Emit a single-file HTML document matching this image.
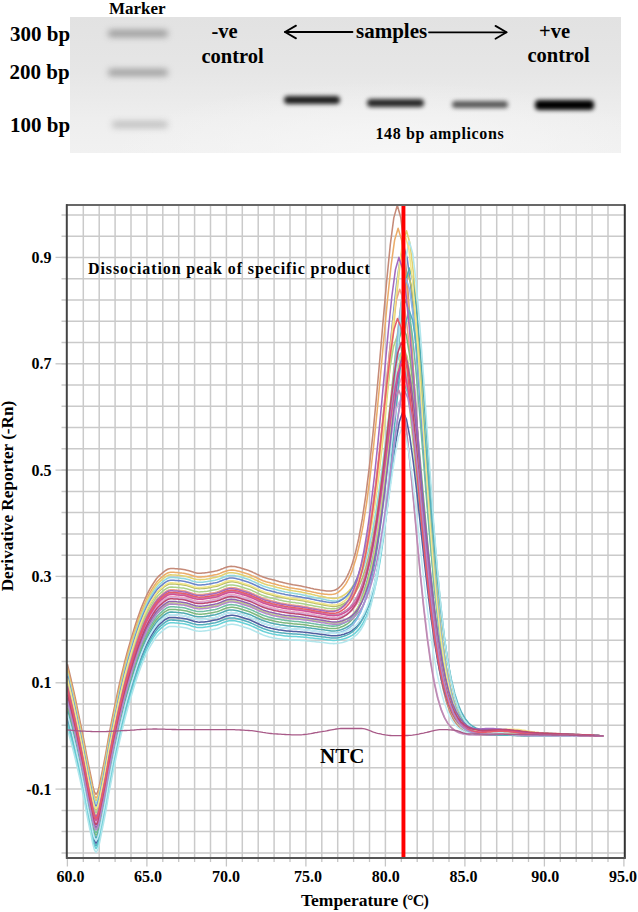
<!DOCTYPE html>
<html><head><meta charset="utf-8">
<style>
html,body{margin:0;padding:0;background:#fff;}
body{width:638px;height:912px;position:relative;overflow:hidden;font-family:"Liberation Serif",serif;font-weight:bold;color:#000;}
.a{position:absolute;white-space:nowrap;line-height:1;}
#gel{position:absolute;left:70px;top:17px;width:551px;height:136px;background:radial-gradient(ellipse 280px 75px at 320px 140px,#f7f7f7 0%,rgba(246,246,246,0.6) 45%,rgba(240,240,240,0) 100%),linear-gradient(180deg,#e2e2e2 0%,#e6e6e6 40%,#eeeeee 75%,#f1f1f1 100%);overflow:hidden;}
.band{position:absolute;border-radius:4px;filter:blur(2.1px);}
svg{position:absolute;left:0;top:0;}
</style></head><body>
<div id="gel">
  <div class="band" style="left:38px;top:13px;width:60px;height:7px;background:#9a9a9a;filter:blur(3px)"></div>
  <div class="band" style="left:38px;top:52px;width:60px;height:7px;background:#9e9e9e;filter:blur(3px)"></div>
  <div class="band" style="left:42px;top:103.5px;width:56px;height:7px;background:#c0c0c0;filter:blur(3px)"></div>
  <div class="band" style="left:214px;top:79px;width:56px;height:8px;background:#1e1e1e"></div>
  <div class="band" style="left:297px;top:81.5px;width:57px;height:8px;background:#282828"></div>
  <div class="band" style="left:382px;top:83.7px;width:56px;height:7.5px;background:#585858"></div>
  <div class="band" style="left:465px;top:82.6px;width:59px;height:10px;background:#000"></div>
</div>
<div class="a" style="left:10px;top:24.4px;font-size:21px">300 bp</div>
<div class="a" style="left:9.5px;top:62.3px;font-size:21px">200 bp</div>
<div class="a" style="left:10px;top:115.3px;font-size:21px">100 bp</div>
<div class="a" style="left:109px;top:0px;font-size:17px">Marker</div>
<div class="a" style="left:211.5px;top:20.5px;font-size:20.5px">-ve</div>
<div class="a" style="left:201.5px;top:45.8px;font-size:20.5px">control</div>
<div class="a" style="left:356px;top:21px;font-size:21px">samples</div>
<div class="a" style="left:539px;top:20.5px;font-size:20.5px">+ve</div>
<div class="a" style="left:527.5px;top:44.6px;font-size:20.5px">control</div>
<div class="a" style="left:375.5px;top:126px;font-size:16px;letter-spacing:0.6px">148 bp amplicons</div>
<svg width="638" height="912" viewBox="0 0 638 912">
<defs><clipPath id="pc"><rect x="67" y="205.5" width="557" height="652"/></clipPath></defs>
<g stroke="#000" stroke-width="1.8" fill="none" stroke-linecap="round" stroke-linejoin="round">
<line x1="285" y1="32" x2="352.5" y2="32"/><polyline points="296,25.6 285,32 296,38.4"/>
<line x1="429" y1="32.3" x2="506.5" y2="32.3"/><polyline points="495.5,25.9 506.5,32.3 495.5,38.7"/>
</g>
<g stroke="#cacaca" stroke-width="1.5"><line x1="83.3" y1="205" x2="83.3" y2="858"/><line x1="99.2" y1="205" x2="99.2" y2="858"/><line x1="115.1" y1="205" x2="115.1" y2="858"/><line x1="131.0" y1="205" x2="131.0" y2="858"/><line x1="146.9" y1="205" x2="146.9" y2="858"/><line x1="162.8" y1="205" x2="162.8" y2="858"/><line x1="178.7" y1="205" x2="178.7" y2="858"/><line x1="194.6" y1="205" x2="194.6" y2="858"/><line x1="210.5" y1="205" x2="210.5" y2="858"/><line x1="226.4" y1="205" x2="226.4" y2="858"/><line x1="242.3" y1="205" x2="242.3" y2="858"/><line x1="258.2" y1="205" x2="258.2" y2="858"/><line x1="274.1" y1="205" x2="274.1" y2="858"/><line x1="290.0" y1="205" x2="290.0" y2="858"/><line x1="305.9" y1="205" x2="305.9" y2="858"/><line x1="321.8" y1="205" x2="321.8" y2="858"/><line x1="337.7" y1="205" x2="337.7" y2="858"/><line x1="353.6" y1="205" x2="353.6" y2="858"/><line x1="369.5" y1="205" x2="369.5" y2="858"/><line x1="385.4" y1="205" x2="385.4" y2="858"/><line x1="417.2" y1="205" x2="417.2" y2="858"/><line x1="433.1" y1="205" x2="433.1" y2="858"/><line x1="449.0" y1="205" x2="449.0" y2="858"/><line x1="464.9" y1="205" x2="464.9" y2="858"/><line x1="480.8" y1="205" x2="480.8" y2="858"/><line x1="496.7" y1="205" x2="496.7" y2="858"/><line x1="512.6" y1="205" x2="512.6" y2="858"/><line x1="528.5" y1="205" x2="528.5" y2="858"/><line x1="544.4" y1="205" x2="544.4" y2="858"/><line x1="560.3" y1="205" x2="560.3" y2="858"/><line x1="576.2" y1="205" x2="576.2" y2="858"/><line x1="592.1" y1="205" x2="592.1" y2="858"/><line x1="608.0" y1="205" x2="608.0" y2="858"/><line x1="61.5" y1="214.9" x2="624" y2="214.9"/><line x1="61.5" y1="236.2" x2="624" y2="236.2"/><line x1="61.5" y1="257.4" x2="624" y2="257.4"/><line x1="61.5" y1="278.7" x2="624" y2="278.7"/><line x1="61.5" y1="300.0" x2="624" y2="300.0"/><line x1="61.5" y1="321.2" x2="624" y2="321.2"/><line x1="61.5" y1="342.5" x2="624" y2="342.5"/><line x1="61.5" y1="363.8" x2="624" y2="363.8"/><line x1="61.5" y1="385.0" x2="624" y2="385.0"/><line x1="61.5" y1="406.3" x2="624" y2="406.3"/><line x1="61.5" y1="427.6" x2="624" y2="427.6"/><line x1="61.5" y1="448.8" x2="624" y2="448.8"/><line x1="61.5" y1="470.1" x2="624" y2="470.1"/><line x1="61.5" y1="491.4" x2="624" y2="491.4"/><line x1="61.5" y1="512.6" x2="624" y2="512.6"/><line x1="61.5" y1="533.9" x2="624" y2="533.9"/><line x1="61.5" y1="555.2" x2="624" y2="555.2"/><line x1="61.5" y1="576.4" x2="624" y2="576.4"/><line x1="61.5" y1="597.7" x2="624" y2="597.7"/><line x1="61.5" y1="619.0" x2="624" y2="619.0"/><line x1="61.5" y1="640.2" x2="624" y2="640.2"/><line x1="61.5" y1="661.5" x2="624" y2="661.5"/><line x1="61.5" y1="682.8" x2="624" y2="682.8"/><line x1="61.5" y1="704.0" x2="624" y2="704.0"/><line x1="61.5" y1="725.3" x2="624" y2="725.3"/><line x1="61.5" y1="746.6" x2="624" y2="746.6"/><line x1="61.5" y1="767.8" x2="624" y2="767.8"/><line x1="61.5" y1="789.1" x2="624" y2="789.1"/><line x1="61.5" y1="810.4" x2="624" y2="810.4"/><line x1="61.5" y1="831.6" x2="624" y2="831.6"/><line x1="61.5" y1="852.9" x2="624" y2="852.9"/></g>
<g stroke="#c6c6c6" stroke-width="1.3"><line x1="55.5" y1="257.4" x2="66" y2="257.4"/><line x1="55.5" y1="363.8" x2="66" y2="363.8"/><line x1="55.5" y1="470.1" x2="66" y2="470.1"/><line x1="55.5" y1="576.4" x2="66" y2="576.4"/><line x1="55.5" y1="682.8" x2="66" y2="682.8"/><line x1="55.5" y1="789.1" x2="66" y2="789.1"/><line x1="67.4" y1="858" x2="67.4" y2="866.5"/><line x1="83.3" y1="858" x2="83.3" y2="862"/><line x1="99.2" y1="858" x2="99.2" y2="862"/><line x1="115.1" y1="858" x2="115.1" y2="862"/><line x1="131.0" y1="858" x2="131.0" y2="862"/><line x1="146.9" y1="858" x2="146.9" y2="866.5"/><line x1="162.8" y1="858" x2="162.8" y2="862"/><line x1="178.7" y1="858" x2="178.7" y2="862"/><line x1="194.6" y1="858" x2="194.6" y2="862"/><line x1="210.5" y1="858" x2="210.5" y2="862"/><line x1="226.4" y1="858" x2="226.4" y2="866.5"/><line x1="242.3" y1="858" x2="242.3" y2="862"/><line x1="258.2" y1="858" x2="258.2" y2="862"/><line x1="274.1" y1="858" x2="274.1" y2="862"/><line x1="290.0" y1="858" x2="290.0" y2="862"/><line x1="305.9" y1="858" x2="305.9" y2="866.5"/><line x1="321.8" y1="858" x2="321.8" y2="862"/><line x1="337.7" y1="858" x2="337.7" y2="862"/><line x1="353.6" y1="858" x2="353.6" y2="862"/><line x1="369.5" y1="858" x2="369.5" y2="862"/><line x1="385.4" y1="858" x2="385.4" y2="866.5"/><line x1="401.3" y1="858" x2="401.3" y2="862"/><line x1="417.2" y1="858" x2="417.2" y2="862"/><line x1="433.1" y1="858" x2="433.1" y2="862"/><line x1="449.0" y1="858" x2="449.0" y2="862"/><line x1="464.9" y1="858" x2="464.9" y2="866.5"/><line x1="480.8" y1="858" x2="480.8" y2="862"/><line x1="496.7" y1="858" x2="496.7" y2="862"/><line x1="512.6" y1="858" x2="512.6" y2="862"/><line x1="528.5" y1="858" x2="528.5" y2="862"/><line x1="544.4" y1="858" x2="544.4" y2="866.5"/><line x1="560.3" y1="858" x2="560.3" y2="862"/><line x1="576.2" y1="858" x2="576.2" y2="862"/><line x1="592.1" y1="858" x2="592.1" y2="862"/><line x1="608.0" y1="858" x2="608.0" y2="862"/><line x1="623.9" y1="858" x2="623.9" y2="866.5"/></g>
<g fill="none" stroke-width="1.55" stroke-linejoin="round" clip-path="url(#pc)"><polyline points="67.4,664.2 69.0,670.7 70.6,677.5 72.2,684.4 73.8,691.4 75.4,698.7 76.9,706.2 78.5,713.9 80.1,721.6 81.7,729.5 83.3,737.5 84.9,745.9 86.5,754.6 88.1,763.0 89.7,770.5 91.3,778.1 92.8,785.9 94.4,792.0 96.0,794.4 97.6,792.2 99.2,786.5 100.8,778.7 102.4,770.6 104.0,763.0 105.6,754.5 107.2,745.5 108.7,736.5 110.3,728.1 111.9,719.9 113.5,711.9 115.1,704.1 116.7,696.6 118.3,689.2 119.9,682.0 121.5,675.0 123.1,668.4 124.6,662.1 126.2,656.1 127.8,650.2 129.4,644.6 131.0,639.2 132.6,633.9 134.2,628.7 135.8,623.6 137.4,618.8 139.0,614.2 140.5,609.9 142.1,605.9 143.7,602.0 145.3,598.3 146.9,594.8 148.5,591.6 150.1,588.7 151.7,586.0 153.3,583.4 154.9,581.0 156.4,578.8 158.0,576.9 159.6,575.4 161.2,574.0 162.8,572.6 164.4,571.3 166.0,570.2 167.6,569.3 169.2,568.7 170.8,568.5 172.3,568.5 173.9,568.6 175.5,568.7 177.1,568.8 178.7,569.0 180.3,569.1 181.9,569.3 183.5,569.5 185.1,569.8 186.7,570.2 188.2,570.6 189.8,571.1 191.4,571.6 193.0,572.1 194.6,572.6 196.2,572.9 197.8,573.2 199.4,573.2 201.0,573.2 202.6,573.1 204.1,573.0 205.7,572.8 207.3,572.6 208.9,572.3 210.5,572.0 212.1,571.7 213.7,571.4 215.3,571.1 216.9,570.7 218.5,570.2 220.0,569.7 221.6,569.0 223.2,568.4 224.8,567.7 226.4,567.2 228.0,566.7 229.6,566.4 231.2,566.3 232.8,566.4 234.4,566.6 235.9,566.8 237.5,567.2 239.1,567.6 240.7,568.1 242.3,568.6 243.9,569.1 245.5,569.6 247.1,570.1 248.7,570.6 250.3,571.2 251.8,571.8 253.4,572.6 255.0,573.3 256.6,574.1 258.2,574.8 259.8,575.6 261.4,576.3 263.0,576.9 264.6,577.5 266.2,578.0 267.7,578.5 269.3,578.9 270.9,579.3 272.5,579.7 274.1,580.1 275.7,580.6 277.3,581.0 278.9,581.5 280.5,581.9 282.1,582.3 283.6,582.7 285.2,583.1 286.8,583.4 288.4,583.8 290.0,584.1 291.6,584.4 293.2,584.7 294.8,584.9 296.4,585.2 298.0,585.5 299.5,585.8 301.1,586.1 302.7,586.4 304.3,586.8 305.9,587.1 307.5,587.5 309.1,587.8 310.7,588.2 312.3,588.5 313.9,588.9 315.4,589.2 317.0,589.5 318.6,589.8 320.2,590.1 321.8,590.3 323.4,590.5 325.0,590.7 326.6,590.9 328.2,591.0 329.8,591.0 331.3,590.9 332.9,590.6 334.5,590.2 336.1,589.5 337.7,588.6 339.3,587.3 340.9,585.7 342.5,583.8 344.1,581.6 345.7,579.1 347.2,576.2 348.8,572.8 350.4,569.0 352.0,564.6 355.3,553.3 358.8,538.2 362.3,518.9 365.8,495.3 369.3,467.4 372.8,435.2 376.3,398.8 379.8,359.5 383.3,318.9 386.8,279.7 390.3,244.7 393.8,217.9 397.3,205.3 400.8,217.8 404.3,247.5 407.8,289.1 411.3,338.3 414.8,391.2 418.3,444.3 421.8,495.1 425.3,541.6 428.8,582.6 432.3,617.5 435.8,646.4 439.3,669.6 442.8,687.7 446.3,701.6 449.8,711.8 453.3,719.3 456.8,724.6 460.3,728.3 463.8,730.8 467.3,732.4 470.8,733.5 474.3,734.2 477.8,734.6 480.8,734.9 482.4,734.9 484.0,735.0 485.6,735.1 487.2,735.1 488.7,735.1 490.3,735.2 491.9,735.2 493.5,735.2 495.1,735.2 496.7,735.2 498.3,735.2 499.9,735.2 501.5,735.3 503.1,735.3 504.6,735.3 506.2,735.3 507.8,735.3 509.4,735.3 511.0,735.3 512.6,735.3 514.2,735.3 515.8,735.4 517.4,735.4 519.0,735.4 520.5,735.4 522.1,735.4 523.7,735.4 525.3,735.4 526.9,735.4 528.5,735.4 530.1,735.4 531.7,735.4 533.3,735.5 534.9,735.5 536.4,735.5 538.0,735.5 539.6,735.5 541.2,735.5 542.8,735.5 544.4,735.5 546.0,735.5 547.6,735.5 549.2,735.5 550.8,735.6 552.3,735.6 553.9,735.6 555.5,735.6 557.1,735.6 558.7,735.6 560.3,735.6 561.9,735.6 563.5,735.6 565.1,735.6 566.7,735.7 568.2,735.7 569.8,735.7 571.4,735.7 573.0,735.7 574.6,735.7 576.2,735.7 577.8,735.7 579.4,735.7 581.0,735.7 582.6,735.8 584.1,735.8 585.7,735.8 587.3,735.8 588.9,735.8 590.5,735.8 592.1,735.8 593.7,735.8 595.3,735.9 596.9,735.9 598.5,735.9 600.0,735.9 601.6,735.9 603.2,735.9 603.2,735.9" stroke="#c58a78"/><polyline points="67.4,667.9 69.0,674.4 70.6,681.2 72.2,688.1 73.8,695.2 75.4,702.5 76.9,709.9 78.5,717.6 80.1,725.4 81.7,733.3 83.3,741.3 84.9,749.6 86.5,758.3 88.1,766.7 89.7,774.2 91.3,781.9 92.8,789.6 94.4,795.7 96.0,798.1 97.6,795.9 99.2,790.2 100.8,782.5 102.4,774.3 104.0,766.7 105.6,758.3 107.2,749.2 108.7,740.2 110.3,731.8 111.9,723.6 113.5,715.6 115.1,707.8 116.7,700.3 118.3,692.9 119.9,685.7 121.5,678.7 123.1,672.1 124.6,665.8 126.2,659.8 127.8,653.9 129.4,648.3 131.0,642.9 132.6,637.6 134.2,632.4 135.8,627.4 137.4,622.5 139.0,617.9 140.5,613.7 142.1,609.6 143.7,605.7 145.3,602.0 146.9,598.5 148.5,595.3 150.1,592.4 151.7,589.7 153.3,587.1 154.9,584.7 156.4,582.6 158.0,580.7 159.6,579.1 161.2,577.7 162.8,576.3 164.4,575.0 166.0,573.9 167.6,573.0 169.2,572.4 170.8,572.2 172.3,572.2 173.9,572.3 175.5,572.4 177.1,572.5 178.7,572.7 180.3,572.9 181.9,573.1 183.5,573.2 185.1,573.5 186.7,573.9 188.2,574.3 189.8,574.8 191.4,575.3 193.0,575.8 194.6,576.3 196.2,576.6 197.8,576.9 199.4,577.0 201.0,576.9 202.6,576.8 204.1,576.7 205.7,576.5 207.3,576.3 208.9,576.0 210.5,575.7 212.1,575.4 213.7,575.1 215.3,574.8 216.9,574.5 218.5,574.0 220.0,573.4 221.6,572.7 223.2,572.1 224.8,571.5 226.4,570.9 228.0,570.5 229.6,570.2 231.2,570.1 232.8,570.1 234.4,570.3 235.9,570.6 237.5,570.9 239.1,571.3 240.7,571.8 242.3,572.3 243.9,572.8 245.5,573.3 247.1,573.8 248.7,574.3 250.3,574.9 251.8,575.6 253.4,576.3 255.0,577.0 256.6,577.8 258.2,578.5 259.8,579.3 261.4,580.0 263.0,580.7 264.6,581.2 266.2,581.8 267.7,582.2 269.3,582.6 270.9,583.1 272.5,583.5 274.1,583.8 275.7,584.3 277.3,584.7 278.9,585.2 280.5,585.6 282.1,586.0 283.6,586.3 285.2,586.7 286.8,587.0 288.4,587.4 290.0,587.7 291.6,587.9 293.2,588.2 294.8,588.5 296.4,588.7 298.0,589.0 299.5,589.3 301.1,589.6 302.7,589.9 304.3,590.2 305.9,590.6 307.5,590.9 309.1,591.2 310.7,591.6 312.3,591.9 313.9,592.3 315.4,592.6 317.0,592.9 318.6,593.2 320.2,593.5 321.8,593.7 323.4,593.9 325.0,594.2 326.6,594.3 328.2,594.5 329.8,594.5 331.3,594.5 332.9,594.3 334.5,593.9 336.1,593.4 337.7,592.6 339.3,591.4 340.9,590.0 342.5,588.3 344.1,586.3 345.7,584.1 347.2,581.5 348.8,578.5 350.4,575.1 352.0,571.1 356.1,558.2 359.6,543.7 363.1,525.4 366.6,503.0 370.1,476.6 373.6,446.0 377.1,411.5 380.6,374.2 384.1,335.8 387.6,298.7 391.1,265.5 394.6,240.1 398.1,228.2 401.6,240.1 405.1,268.5 408.6,308.4 412.1,355.4 415.6,405.9 419.1,456.7 422.6,505.2 426.1,549.5 429.6,588.6 433.1,621.7 436.6,649.1 440.1,671.0 443.6,688.2 447.1,701.2 450.6,710.9 454.1,718.0 457.6,723.0 461.1,726.4 464.6,728.8 468.1,730.4 471.6,731.4 475.1,732.0 478.6,732.4 480.8,732.5 482.4,732.6 484.0,732.6 485.6,732.6 487.2,732.6 488.7,732.6 490.3,732.6 491.9,732.5 493.5,732.5 495.1,732.4 496.7,732.3 498.3,732.3 499.9,732.2 501.5,732.2 503.1,732.1 504.6,732.1 506.2,732.1 507.8,732.1 509.4,732.1 511.0,732.2 512.6,732.2 514.2,732.3 515.8,732.3 517.4,732.4 519.0,732.5 520.5,732.6 522.1,732.7 523.7,732.8 525.3,733.0 526.9,733.1 528.5,733.2 530.1,733.3 531.7,733.4 533.3,733.5 534.9,733.6 536.4,733.7 538.0,733.8 539.6,733.8 541.2,733.9 542.8,734.0 544.4,734.0 546.0,734.1 547.6,734.1 549.2,734.2 550.8,734.2 552.3,734.3 553.9,734.3 555.5,734.4 557.1,734.4 558.7,734.5 560.3,734.5 561.9,734.6 563.5,734.6 565.1,734.6 566.7,734.7 568.2,734.7 569.8,734.8 571.4,734.8 573.0,734.9 574.6,734.9 576.2,735.0 577.8,735.0 579.4,735.1 581.0,735.1 582.6,735.1 584.1,735.2 585.7,735.2 587.3,735.3 588.9,735.3 590.5,735.4 592.1,735.5 593.7,735.5 595.3,735.6 596.9,735.6 598.5,735.7 600.0,735.8 601.6,735.8 603.2,735.9 603.2,735.9" stroke="#ecac69"/><polyline points="67.4,670.5 69.0,677.1 70.6,683.8 72.2,690.7 73.8,697.8 75.4,705.1 76.9,712.6 78.5,720.2 80.1,728.0 81.7,735.9 83.3,743.9 84.9,752.3 86.5,760.9 88.1,769.3 89.7,776.9 91.3,784.5 92.8,792.3 94.4,798.4 96.0,800.8 97.6,798.6 99.2,792.8 100.8,785.1 102.4,777.0 104.0,769.4 105.6,760.9 107.2,751.9 108.7,742.9 110.3,734.5 111.9,726.3 113.5,718.3 115.1,710.5 116.7,703.0 118.3,695.6 119.9,688.4 121.5,681.4 123.1,674.8 124.6,668.5 126.2,662.4 127.8,656.6 129.4,651.0 131.0,645.6 132.6,640.3 134.2,635.1 135.8,630.0 137.4,625.2 139.0,620.6 140.5,616.3 142.1,612.3 143.7,608.4 145.3,604.6 146.9,601.2 148.5,597.9 150.1,595.0 151.7,592.4 153.3,589.8 154.9,587.4 156.4,585.2 158.0,583.3 159.6,581.8 161.2,580.4 162.8,579.0 164.4,577.7 166.0,576.5 167.6,575.6 169.2,575.1 170.8,574.8 172.3,574.9 173.9,574.9 175.5,575.0 177.1,575.2 178.7,575.3 180.3,575.5 181.9,575.7 183.5,575.9 185.1,576.2 186.7,576.5 188.2,577.0 189.8,577.5 191.4,578.0 193.0,578.5 194.6,578.9 196.2,579.3 197.8,579.5 199.4,579.6 201.0,579.6 202.6,579.5 204.1,579.4 205.7,579.2 207.3,578.9 208.9,578.7 210.5,578.4 212.1,578.1 213.7,577.8 215.3,577.5 216.9,577.1 218.5,576.6 220.0,576.0 221.6,575.4 223.2,574.7 224.8,574.1 226.4,573.6 228.0,573.1 229.6,572.8 231.2,572.7 232.8,572.8 234.4,572.9 235.9,573.2 237.5,573.6 239.1,574.0 240.7,574.4 242.3,574.9 243.9,575.4 245.5,575.9 247.1,576.4 248.7,577.0 250.3,577.6 251.8,578.2 253.4,578.9 255.0,579.7 256.6,580.4 258.2,581.2 259.8,581.9 261.4,582.7 263.0,583.3 264.6,583.9 266.2,584.4 267.7,584.9 269.3,585.3 270.9,585.7 272.5,586.1 274.1,586.5 275.7,586.9 277.3,587.4 278.9,587.8 280.5,588.2 282.1,588.6 283.6,588.9 285.2,589.3 286.8,589.6 288.4,589.9 290.0,590.2 291.6,590.5 293.2,590.8 294.8,591.0 296.4,591.3 298.0,591.5 299.5,591.8 301.1,592.1 302.7,592.4 304.3,592.7 305.9,593.1 307.5,593.4 309.1,593.7 310.7,594.1 312.3,594.5 313.9,594.8 315.4,595.2 317.0,595.5 318.6,595.9 320.2,596.2 321.8,596.5 323.4,596.8 325.0,597.1 326.6,597.5 328.2,597.8 329.8,598.1 331.3,598.3 332.9,598.4 334.5,598.4 336.1,598.3 337.7,598.0 339.3,597.5 340.9,596.8 342.5,596.0 344.1,595.0 345.7,593.9 347.2,592.6 348.8,591.1 350.4,589.4 352.0,587.3 354.1,584.2 357.6,577.6 361.1,568.7 364.6,557.2 368.1,542.7 371.6,524.9 375.1,503.2 378.6,477.1 382.1,446.9 385.6,413.0 389.1,376.4 392.6,338.3 396.1,301.3 399.6,268.1 403.0,242.7 406.5,230.8 410.0,243.5 413.5,273.7 417.0,315.7 420.5,365.0 424.0,417.4 427.5,469.6 431.0,518.8 434.5,563.1 438.0,601.4 441.5,633.5 445.0,659.4 448.5,679.7 452.0,695.2 455.5,706.8 459.0,715.1 462.5,721.0 466.0,725.1 469.5,727.8 473.0,729.6 476.5,730.6 480.0,731.2 480.8,731.3 482.4,731.4 484.0,731.4 485.6,731.4 487.2,731.4 488.7,731.3 490.3,731.2 491.9,731.0 493.5,730.9 495.1,730.8 496.7,730.6 498.3,730.5 499.9,730.4 501.5,730.3 503.1,730.2 504.6,730.2 506.2,730.3 507.8,730.3 509.4,730.4 511.0,730.5 512.6,730.6 514.2,730.8 515.8,731.0 517.4,731.2 519.0,731.4 520.5,731.6 522.1,731.8 523.7,732.0 525.3,732.3 526.9,732.5 528.5,732.6 530.1,732.8 531.7,733.0 533.3,733.1 534.9,733.3 536.4,733.4 538.0,733.5 539.6,733.6 541.2,733.7 542.8,733.8 544.4,733.8 546.0,733.9 547.6,733.9 549.2,734.0 550.8,734.1 552.3,734.1 553.9,734.2 555.5,734.2 557.1,734.3 558.7,734.3 560.3,734.4 561.9,734.4 563.5,734.5 565.1,734.5 566.7,734.5 568.2,734.6 569.8,734.6 571.4,734.7 573.0,734.7 574.6,734.8 576.2,734.8 577.8,734.9 579.4,735.0 581.0,735.0 582.6,735.1 584.1,735.1 585.7,735.2 587.3,735.2 588.9,735.3 590.5,735.3 592.1,735.4 593.7,735.5 595.3,735.5 596.9,735.6 598.5,735.7 600.0,735.7 601.6,735.8 603.2,735.9 603.2,735.9" stroke="#e2d270"/><polyline points="67.4,673.2 69.0,679.8 70.6,686.5 72.2,693.4 73.8,700.5 75.4,707.8 76.9,715.2 78.5,722.9 80.1,730.7 81.7,738.6 83.3,746.6 84.9,754.9 86.5,763.6 88.1,772.0 89.7,779.5 91.3,787.2 92.8,795.0 94.4,801.0 96.0,803.5 97.6,801.2 99.2,795.5 100.8,787.8 102.4,779.6 104.0,772.0 105.6,763.6 107.2,754.5 108.7,745.5 110.3,737.1 111.9,728.9 113.5,720.9 115.1,713.1 116.7,705.6 118.3,698.2 119.9,691.0 121.5,684.1 123.1,677.5 124.6,671.2 126.2,665.1 127.8,659.3 129.4,653.6 131.0,648.2 132.6,642.9 134.2,637.7 135.8,632.7 137.4,627.8 139.0,623.2 140.5,619.0 142.1,614.9 143.7,611.0 145.3,607.3 146.9,603.8 148.5,600.6 150.1,597.7 151.7,595.0 153.3,592.4 154.9,590.0 156.4,587.9 158.0,586.0 159.6,584.4 161.2,583.0 162.8,581.6 164.4,580.3 166.0,579.2 167.6,578.3 169.2,577.7 170.8,577.5 172.3,577.5 173.9,577.6 175.5,577.7 177.1,577.8 178.7,578.0 180.3,578.2 181.9,578.4 183.5,578.6 185.1,578.8 186.7,579.2 188.2,579.6 189.8,580.1 191.4,580.7 193.0,581.2 194.6,581.6 196.2,582.0 197.8,582.2 199.4,582.3 201.0,582.3 202.6,582.2 204.1,582.0 205.7,581.8 207.3,581.6 208.9,581.3 210.5,581.1 212.1,580.8 213.7,580.5 215.3,580.2 216.9,579.8 218.5,579.3 220.0,578.7 221.6,578.0 223.2,577.4 224.8,576.8 226.4,576.2 228.0,575.8 229.6,575.5 231.2,575.4 232.8,575.4 234.4,575.6 235.9,575.9 237.5,576.2 239.1,576.6 240.7,577.1 242.3,577.6 243.9,578.1 245.5,578.6 247.1,579.1 248.7,579.6 250.3,580.2 251.8,580.9 253.4,581.6 255.0,582.3 256.6,583.1 258.2,583.9 259.8,584.6 261.4,585.3 263.0,586.0 264.6,586.6 266.2,587.1 267.7,587.5 269.3,588.0 270.9,588.4 272.5,588.8 274.1,589.2 275.7,589.6 277.3,590.0 278.9,590.4 280.5,590.8 282.1,591.2 283.6,591.5 285.2,591.9 286.8,592.2 288.4,592.5 290.0,592.8 291.6,593.0 293.2,593.3 294.8,593.5 296.4,593.8 298.0,594.1 299.5,594.3 301.1,594.6 302.7,594.9 304.3,595.2 305.9,595.5 307.5,595.9 309.1,596.2 310.7,596.5 312.3,596.9 313.9,597.3 315.4,597.6 317.0,598.0 318.6,598.3 320.2,598.6 321.8,598.9 323.4,599.3 325.0,599.6 326.6,600.0 328.2,600.3 329.8,600.6 331.3,600.8 332.9,601.0 334.5,601.1 336.1,601.0 337.7,600.8 339.3,600.4 340.9,599.8 342.5,599.1 344.1,598.3 345.7,597.3 347.2,596.3 348.8,595.0 350.4,593.5 352.0,591.7 355.0,587.6 358.5,581.2 362.0,572.7 365.5,561.6 369.0,547.9 372.5,531.2 376.0,511.1 379.5,487.6 383.0,461.6 386.5,434.1 390.0,406.7 393.5,381.8 397.0,362.3 400.5,353.1 404.0,361.6 407.5,381.7 411.0,410.1 414.5,443.8 418.0,480.3 421.5,517.4 425.0,553.3 428.5,586.5 432.0,616.2 435.5,642.0 439.0,663.6 442.5,681.3 446.0,695.4 449.5,706.4 453.0,714.8 456.5,721.0 460.0,725.5 463.5,728.7 467.0,731.0 470.5,732.4 474.0,733.4 477.5,733.9 480.8,734.2 482.4,734.2 484.0,734.2 485.6,734.1 487.2,734.0 488.7,733.8 490.3,733.7 491.9,733.5 493.5,733.3 495.1,733.1 496.7,732.8 498.3,732.6 499.9,732.4 501.5,732.2 503.1,732.1 504.6,732.0 506.2,731.9 507.8,731.8 509.4,731.8 511.0,731.9 512.6,732.0 514.2,732.1 515.8,732.2 517.4,732.4 519.0,732.6 520.5,732.9 522.1,733.1 523.7,733.4 525.3,733.6 526.9,733.9 528.5,734.1 530.1,734.3 531.7,734.5 533.3,734.7 534.9,734.8 536.4,735.0 538.0,735.1 539.6,735.2 541.2,735.3 542.8,735.4 544.4,735.4 546.0,735.5 547.6,735.5 549.2,735.5 550.8,735.6 552.3,735.6 553.9,735.6 555.5,735.6 557.1,735.6 558.7,735.6 560.3,735.7 561.9,735.7 563.5,735.7 565.1,735.7 566.7,735.7 568.2,735.7 569.8,735.7 571.4,735.7 573.0,735.7 574.6,735.7 576.2,735.7 577.8,735.8 579.4,735.8 581.0,735.8 582.6,735.8 584.1,735.8 585.7,735.8 587.3,735.8 588.9,735.8 590.5,735.8 592.1,735.8 593.7,735.9 595.3,735.9 596.9,735.9 598.5,735.9 600.0,735.9 601.6,735.9 603.2,735.9 603.2,735.9" stroke="#90d8df"/><polyline points="67.4,675.9 69.0,682.4 70.6,689.2 72.2,696.1 73.8,703.1 75.4,710.4 76.9,717.9 78.5,725.6 80.1,733.3 81.7,741.2 83.3,749.2 84.9,757.6 86.5,766.3 88.1,774.6 89.7,782.2 91.3,789.8 92.8,797.6 94.4,803.7 96.0,806.1 97.6,803.9 99.2,798.2 100.8,790.4 102.4,782.3 104.0,774.7 105.6,766.2 107.2,757.2 108.7,748.2 110.3,739.8 111.9,731.6 113.5,723.6 115.1,715.8 116.7,708.3 118.3,700.9 119.9,693.7 121.5,686.7 123.1,680.1 124.6,673.8 126.2,667.8 127.8,661.9 129.4,656.3 131.0,650.9 132.6,645.6 134.2,640.4 135.8,635.3 137.4,630.5 139.0,625.9 140.5,621.6 142.1,617.6 143.7,613.7 145.3,610.0 146.9,606.5 148.5,603.3 150.1,600.4 151.7,597.7 153.3,595.1 154.9,592.7 156.4,590.5 158.0,588.6 159.6,587.1 161.2,585.7 162.8,584.3 164.4,583.0 166.0,581.9 167.6,581.0 169.2,580.4 170.8,580.2 172.3,580.2 173.9,580.3 175.5,580.4 177.1,580.5 178.7,580.7 180.3,580.8 181.9,581.0 183.5,581.2 185.1,581.5 186.7,581.9 188.2,582.3 189.8,582.8 191.4,583.3 193.0,583.8 194.6,584.3 196.2,584.6 197.8,584.9 199.4,584.9 201.0,584.9 202.6,584.8 204.1,584.7 205.7,584.5 207.3,584.2 208.9,584.0 210.5,583.7 212.1,583.4 213.7,583.1 215.3,582.8 216.9,582.4 218.5,581.9 220.0,581.3 221.6,580.7 223.2,580.1 224.8,579.4 226.4,578.9 228.0,578.4 229.6,578.1 231.2,578.0 232.8,578.1 234.4,578.3 235.9,578.5 237.5,578.9 239.1,579.3 240.7,579.8 242.3,580.3 243.9,580.8 245.5,581.3 247.1,581.8 248.7,582.3 250.3,582.9 251.8,583.5 253.4,584.3 255.0,585.0 256.6,585.8 258.2,586.5 259.8,587.3 261.4,588.0 263.0,588.6 264.6,589.2 266.2,589.7 267.7,590.2 269.3,590.6 270.9,591.0 272.5,591.4 274.1,591.8 275.7,592.2 277.3,592.7 278.9,593.1 280.5,593.4 282.1,593.8 283.6,594.1 285.2,594.5 286.8,594.8 288.4,595.1 290.0,595.3 291.6,595.6 293.2,595.8 294.8,596.1 296.4,596.3 298.0,596.6 299.5,596.8 301.1,597.1 302.7,597.4 304.3,597.7 305.9,598.0 307.5,598.3 309.1,598.6 310.7,598.9 312.3,599.3 313.9,599.6 315.4,599.9 317.0,600.3 318.6,600.6 320.2,600.9 321.8,601.1 323.4,601.4 325.0,601.7 326.6,602.0 328.2,602.2 329.8,602.4 331.3,602.6 332.9,602.6 334.5,602.5 336.1,602.3 337.7,601.8 339.3,601.2 340.9,600.3 342.5,599.3 344.1,598.1 345.7,596.7 347.2,595.2 348.8,593.3 350.4,591.2 352.0,588.7 354.7,583.6 358.2,575.2 361.7,564.0 365.2,549.8 368.7,532.2 372.2,511.1 375.7,485.7 379.2,456.3 382.7,423.2 386.2,387.7 389.7,350.9 393.2,315.0 396.7,282.9 400.2,258.3 403.7,246.8 407.2,258.3 410.7,285.7 414.2,324.1 417.7,369.4 421.2,418.2 424.7,467.2 428.2,514.0 431.7,556.9 435.2,594.7 438.7,626.9 442.2,653.6 445.7,675.0 449.2,691.7 452.7,704.5 456.2,714.0 459.7,720.9 463.2,725.7 466.6,729.1 470.1,731.3 473.6,732.8 477.1,733.7 480.6,734.2 480.8,734.2 482.4,734.3 484.0,734.4 485.6,734.5 487.2,734.5 488.7,734.6 490.3,734.6 491.9,734.6 493.5,734.6 495.1,734.7 496.7,734.7 498.3,734.7 499.9,734.7 501.5,734.8 503.1,734.8 504.6,734.9 506.2,734.9 507.8,735.0 509.4,735.1 511.0,735.1 512.6,735.2 514.2,735.3 515.8,735.3 517.4,735.4 519.0,735.4 520.5,735.5 522.1,735.5 523.7,735.6 525.3,735.6 526.9,735.6 528.5,735.6 530.1,735.7 531.7,735.7 533.3,735.7 534.9,735.7 536.4,735.7 538.0,735.7 539.6,735.7 541.2,735.7 542.8,735.7 544.4,735.7 546.0,735.8 547.6,735.8 549.2,735.8 550.8,735.8 552.3,735.8 553.9,735.8 555.5,735.8 557.1,735.8 558.7,735.8 560.3,735.8 561.9,735.8 563.5,735.8 565.1,735.8 566.7,735.8 568.2,735.8 569.8,735.8 571.4,735.8 573.0,735.8 574.6,735.8 576.2,735.8 577.8,735.8 579.4,735.8 581.0,735.9 582.6,735.9 584.1,735.9 585.7,735.9 587.3,735.9 588.9,735.9 590.5,735.9 592.1,735.9 593.7,735.9 595.3,735.9 596.9,735.9 598.5,735.9 600.0,735.9 601.6,735.9 603.2,735.9 603.2,735.9" stroke="#6b86cb"/><polyline points="67.4,679.6 69.0,686.1 70.6,692.9 72.2,699.8 73.8,706.9 75.4,714.1 76.9,721.6 78.5,729.3 80.1,737.1 81.7,745.0 83.3,753.0 84.9,761.3 86.5,770.0 88.1,778.4 89.7,785.9 91.3,793.6 92.8,801.3 94.4,807.4 96.0,809.8 97.6,807.6 99.2,801.9 100.8,794.2 102.4,786.0 104.0,778.4 105.6,770.0 107.2,760.9 108.7,751.9 110.3,743.5 111.9,735.3 113.5,727.3 115.1,719.5 116.7,712.0 118.3,704.6 119.9,697.4 121.5,690.4 123.1,683.8 124.6,677.5 126.2,671.5 127.8,665.6 129.4,660.0 131.0,654.6 132.6,649.3 134.2,644.1 135.8,639.1 137.4,634.2 139.0,629.6 140.5,625.4 142.1,621.3 143.7,617.4 145.3,613.7 146.9,610.2 148.5,607.0 150.1,604.1 151.7,601.4 153.3,598.8 154.9,596.4 156.4,594.3 158.0,592.4 159.6,590.8 161.2,589.4 162.8,588.0 164.4,586.7 166.0,585.6 167.6,584.7 169.2,584.1 170.8,583.9 172.3,583.9 173.9,584.0 175.5,584.1 177.1,584.2 178.7,584.4 180.3,584.6 181.9,584.7 183.5,584.9 185.1,585.2 186.7,585.6 188.2,586.0 189.8,586.5 191.4,587.0 193.0,587.5 194.6,588.0 196.2,588.3 197.8,588.6 199.4,588.7 201.0,588.6 202.6,588.5 204.1,588.4 205.7,588.2 207.3,588.0 208.9,587.7 210.5,587.4 212.1,587.1 213.7,586.8 215.3,586.5 216.9,586.2 218.5,585.7 220.0,585.1 221.6,584.4 223.2,583.8 224.8,583.2 226.4,582.6 228.0,582.2 229.6,581.9 231.2,581.8 232.8,581.8 234.4,582.0 235.9,582.3 237.5,582.6 239.1,583.0 240.7,583.5 242.3,584.0 243.9,584.5 245.5,585.0 247.1,585.5 248.7,586.0 250.3,586.6 251.8,587.3 253.4,588.0 255.0,588.7 256.6,589.5 258.2,590.2 259.8,591.0 261.4,591.7 263.0,592.3 264.6,592.9 266.2,593.4 267.7,593.9 269.3,594.3 270.9,594.8 272.5,595.2 274.1,595.5 275.7,596.0 277.3,596.4 278.9,596.7 280.5,597.1 282.1,597.4 283.6,597.8 285.2,598.1 286.8,598.4 288.4,598.7 290.0,598.9 291.6,599.2 293.2,599.4 294.8,599.6 296.4,599.8 298.0,600.1 299.5,600.3 301.1,600.6 302.7,600.8 304.3,601.1 305.9,601.4 307.5,601.7 309.1,602.0 310.7,602.4 312.3,602.7 313.9,603.0 315.4,603.4 317.0,603.7 318.6,604.0 320.2,604.3 321.8,604.6 323.4,604.9 325.0,605.2 326.6,605.5 328.2,605.8 329.8,606.0 331.3,606.2 332.9,606.4 334.5,606.4 336.1,606.3 337.7,606.0 339.3,605.6 340.9,605.0 342.5,604.3 344.1,603.5 345.7,602.5 347.2,601.4 348.8,600.2 350.4,598.7 352.0,597.0 355.2,592.7 358.7,586.6 362.2,578.4 365.7,567.8 369.2,554.8 372.7,538.7 376.2,519.0 379.7,495.5 383.2,468.2 386.7,437.8 390.2,404.7 393.7,370.4 397.2,336.9 400.7,307.0 404.2,284.1 407.7,273.4 411.2,285.0 414.7,312.6 418.2,351.1 421.7,396.2 425.1,444.2 428.6,492.0 432.1,537.0 435.6,577.5 439.1,612.6 442.6,641.9 446.1,665.6 449.6,684.2 453.1,698.3 456.6,708.9 460.1,716.5 463.6,721.9 467.1,725.5 470.6,728.0 474.1,729.5 477.6,730.4 480.8,730.7 482.4,730.8 484.0,730.8 485.6,730.8 487.2,730.8 488.7,730.7 490.3,730.6 491.9,730.5 493.5,730.3 495.1,730.2 496.7,730.1 498.3,730.1 499.9,730.0 501.5,730.0 503.1,730.1 504.6,730.1 506.2,730.2 507.8,730.4 509.4,730.5 511.0,730.7 512.6,730.9 514.2,731.1 515.8,731.3 517.4,731.5 519.0,731.7 520.5,732.0 522.1,732.2 523.7,732.4 525.3,732.5 526.9,732.7 528.5,732.8 530.1,733.0 531.7,733.1 533.3,733.2 534.9,733.3 536.4,733.4 538.0,733.5 539.6,733.6 541.2,733.6 542.8,733.7 544.4,733.8 546.0,733.8 547.6,733.9 549.2,733.9 550.8,734.0 552.3,734.0 553.9,734.1 555.5,734.1 557.1,734.2 558.7,734.2 560.3,734.3 561.9,734.3 563.5,734.4 565.1,734.4 566.7,734.5 568.2,734.5 569.8,734.6 571.4,734.6 573.0,734.7 574.6,734.7 576.2,734.8 577.8,734.8 579.4,734.9 581.0,735.0 582.6,735.0 584.1,735.1 585.7,735.1 587.3,735.2 588.9,735.2 590.5,735.3 592.1,735.4 593.7,735.4 595.3,735.5 596.9,735.6 598.5,735.7 600.0,735.7 601.6,735.8 603.2,735.9 603.2,735.9" stroke="#b8be69"/><polyline points="67.4,682.8 69.0,689.3 70.6,696.1 72.2,703.0 73.8,710.1 75.4,717.3 76.9,724.8 78.5,732.5 80.1,740.3 81.7,748.2 83.3,756.1 84.9,764.5 86.5,773.2 88.1,781.6 89.7,789.1 91.3,796.7 92.8,804.5 94.4,810.6 96.0,813.0 97.6,810.8 99.2,805.1 100.8,797.4 102.4,789.2 104.0,781.6 105.6,773.1 107.2,764.1 108.7,755.1 110.3,746.7 111.9,738.5 113.5,730.5 115.1,722.7 116.7,715.2 118.3,707.8 119.9,700.6 121.5,693.6 123.1,687.0 124.6,680.7 126.2,674.7 127.8,668.8 129.4,663.2 131.0,657.8 132.6,652.5 134.2,647.3 135.8,642.2 137.4,637.4 139.0,632.8 140.5,628.5 142.1,624.5 143.7,620.6 145.3,616.9 146.9,613.4 148.5,610.2 150.1,607.3 151.7,604.6 153.3,602.0 154.9,599.6 156.4,597.4 158.0,595.5 159.6,594.0 161.2,592.6 162.8,591.2 164.4,589.9 166.0,588.8 167.6,587.9 169.2,587.3 170.8,587.1 172.3,587.1 173.9,587.2 175.5,587.3 177.1,587.4 178.7,587.6 180.3,587.8 181.9,587.9 183.5,588.1 185.1,588.4 186.7,588.8 188.2,589.2 189.8,589.7 191.4,590.2 193.0,590.7 194.6,591.2 196.2,591.5 197.8,591.8 199.4,591.9 201.0,591.8 202.6,591.7 204.1,591.6 205.7,591.4 207.3,591.2 208.9,590.9 210.5,590.6 212.1,590.3 213.7,590.0 215.3,589.7 216.9,589.4 218.5,588.9 220.0,588.3 221.6,587.6 223.2,587.0 224.8,586.3 226.4,585.8 228.0,585.3 229.6,585.1 231.2,584.9 232.8,585.0 234.4,585.2 235.9,585.4 237.5,585.8 239.1,586.2 240.7,586.7 242.3,587.2 243.9,587.7 245.5,588.2 247.1,588.7 248.7,589.2 250.3,589.8 251.8,590.4 253.4,591.2 255.0,591.9 256.6,592.7 258.2,593.4 259.8,594.2 261.4,594.9 263.0,595.5 264.6,596.1 266.2,596.6 267.7,597.1 269.3,597.5 270.9,597.9 272.5,598.3 274.1,598.7 275.7,599.1 277.3,599.5 278.9,599.9 280.5,600.2 282.1,600.6 283.6,600.9 285.2,601.2 286.8,601.5 288.4,601.7 290.0,602.0 291.6,602.2 293.2,602.4 294.8,602.6 296.4,602.9 298.0,603.1 299.5,603.3 301.1,603.5 302.7,603.8 304.3,604.1 305.9,604.4 307.5,604.7 309.1,605.0 310.7,605.3 312.3,605.6 313.9,605.9 315.4,606.2 317.0,606.5 318.6,606.8 320.2,607.1 321.8,607.3 323.4,607.6 325.0,607.9 326.6,608.2 328.2,608.4 329.8,608.6 331.3,608.7 332.9,608.8 334.5,608.7 336.1,608.4 337.7,608.0 339.3,607.4 340.9,606.6 342.5,605.6 344.1,604.4 345.7,603.0 347.2,601.4 348.8,599.6 350.4,597.4 352.0,594.9 355.0,588.9 358.5,579.9 362.0,567.8 365.5,552.5 369.0,533.9 372.5,511.7 376.0,485.7 379.5,456.8 383.0,426.2 386.5,395.8 390.0,368.2 393.5,346.8 397.0,336.6 400.5,344.4 404.0,363.1 407.5,389.5 411.0,421.4 414.5,456.3 418.0,492.4 421.5,527.9 425.0,561.5 428.5,592.2 432.0,619.4 435.5,642.9 439.0,662.8 442.5,679.1 446.0,692.3 449.5,702.8 453.0,710.9 456.5,717.1 460.0,721.6 463.5,725.0 467.0,727.4 470.5,729.0 474.0,730.1 477.5,730.8 480.8,731.1 482.4,731.2 484.0,731.2 485.6,731.2 487.2,731.2 488.7,731.2 490.3,731.1 491.9,731.1 493.5,731.0 495.1,730.9 496.7,730.9 498.3,730.8 499.9,730.8 501.5,730.9 503.1,730.9 504.6,731.0 506.2,731.1 507.8,731.2 509.4,731.3 511.0,731.5 512.6,731.6 514.2,731.8 515.8,732.0 517.4,732.1 519.0,732.3 520.5,732.4 522.1,732.6 523.7,732.7 525.3,732.9 526.9,733.0 528.5,733.1 530.1,733.2 531.7,733.3 533.3,733.4 534.9,733.5 536.4,733.6 538.0,733.6 539.6,733.7 541.2,733.8 542.8,733.8 544.4,733.9 546.0,733.9 547.6,734.0 549.2,734.0 550.8,734.1 552.3,734.1 553.9,734.2 555.5,734.2 557.1,734.2 558.7,734.3 560.3,734.3 561.9,734.4 563.5,734.4 565.1,734.5 566.7,734.5 568.2,734.6 569.8,734.6 571.4,734.7 573.0,734.7 574.6,734.8 576.2,734.8 577.8,734.9 579.4,734.9 581.0,735.0 582.6,735.0 584.1,735.1 585.7,735.2 587.3,735.2 588.9,735.3 590.5,735.3 592.1,735.4 593.7,735.5 595.3,735.5 596.9,735.6 598.5,735.7 600.0,735.7 601.6,735.8 603.2,735.9 603.2,735.9" stroke="#abd28a"/><polyline points="67.4,685.4 69.0,692.0 70.6,698.7 72.2,705.6 73.8,712.7 75.4,720.0 76.9,727.5 78.5,735.1 80.1,742.9 81.7,750.8 83.3,758.8 84.9,767.2 86.5,775.8 88.1,784.2 89.7,791.8 91.3,799.4 92.8,807.2 94.4,813.3 96.0,815.7 97.6,813.4 99.2,807.7 100.8,800.0 102.4,791.8 104.0,784.3 105.6,775.8 107.2,766.7 108.7,757.8 110.3,749.4 111.9,741.2 113.5,733.2 115.1,725.4 116.7,717.8 118.3,710.4 119.9,703.2 121.5,696.3 123.1,689.7 124.6,683.4 126.2,677.3 127.8,671.5 129.4,665.9 131.0,660.4 132.6,655.1 134.2,649.9 135.8,644.9 137.4,640.1 139.0,635.5 140.5,631.2 142.1,627.2 143.7,623.2 145.3,619.5 146.9,616.0 148.5,612.8 150.1,609.9 151.7,607.2 153.3,604.7 154.9,602.3 156.4,600.1 158.0,598.2 159.6,596.6 161.2,595.2 162.8,593.9 164.4,592.6 166.0,591.4 167.6,590.5 169.2,589.9 170.8,589.7 172.3,589.8 173.9,589.8 175.5,589.9 177.1,590.1 178.7,590.2 180.3,590.4 181.9,590.6 183.5,590.8 185.1,591.1 186.7,591.4 188.2,591.9 189.8,592.4 191.4,592.9 193.0,593.4 194.6,593.8 196.2,594.2 197.8,594.4 199.4,594.5 201.0,594.5 202.6,594.4 204.1,594.2 205.7,594.0 207.3,593.8 208.9,593.6 210.5,593.3 212.1,593.0 213.7,592.7 215.3,592.4 216.9,592.0 218.5,591.5 220.0,590.9 221.6,590.3 223.2,589.6 224.8,589.0 226.4,588.4 228.0,588.0 229.6,587.7 231.2,587.6 232.8,587.7 234.4,587.8 235.9,588.1 237.5,588.5 239.1,588.9 240.7,589.3 242.3,589.8 243.9,590.3 245.5,590.8 247.1,591.3 248.7,591.8 250.3,592.4 251.8,593.1 253.4,593.8 255.0,594.6 256.6,595.3 258.2,596.1 259.8,596.8 261.4,597.5 263.0,598.2 264.6,598.8 266.2,599.3 267.7,599.8 269.3,600.2 270.9,600.6 272.5,601.0 274.1,601.4 275.7,601.8 277.3,602.2 278.9,602.5 280.5,602.9 282.1,603.2 283.6,603.5 285.2,603.8 286.8,604.1 288.4,604.3 290.0,604.5 291.6,604.8 293.2,605.0 294.8,605.2 296.4,605.4 298.0,605.6 299.5,605.8 301.1,606.0 302.7,606.3 304.3,606.5 305.9,606.8 307.5,607.1 309.1,607.4 310.7,607.7 312.3,608.0 313.9,608.3 315.4,608.6 317.0,608.9 318.6,609.1 320.2,609.4 321.8,609.6 323.4,609.9 325.0,610.1 326.6,610.4 328.2,610.6 329.8,610.7 331.3,610.8 332.9,610.8 334.5,610.7 336.1,610.4 337.7,609.9 339.3,609.2 340.9,608.3 342.5,607.2 344.1,605.9 345.7,604.4 347.2,602.7 348.8,600.7 350.4,598.4 352.0,595.6 354.2,591.2 357.7,582.2 361.2,570.4 364.7,555.2 368.2,536.4 371.7,514.0 375.2,487.4 378.7,457.1 382.2,423.8 385.7,389.1 389.2,355.0 392.7,324.2 396.2,300.5 399.7,289.3 403.2,299.1 406.7,322.6 410.2,355.7 413.7,395.0 417.2,437.5 420.7,480.7 424.2,522.3 427.7,560.9 431.2,595.2 434.7,624.8 438.2,649.6 441.7,669.8 445.2,685.8 448.7,698.3 452.2,707.8 455.7,714.9 459.2,720.1 462.7,723.8 466.2,726.4 469.7,728.1 473.2,729.3 476.7,730.0 480.2,730.4 480.8,730.5 482.4,730.6 484.0,730.6 485.6,730.6 487.2,730.6 488.7,730.6 490.3,730.6 491.9,730.5 493.5,730.4 495.1,730.4 496.7,730.3 498.3,730.2 499.9,730.1 501.5,730.1 503.1,730.1 504.6,730.1 506.2,730.1 507.8,730.2 509.4,730.2 511.0,730.3 512.6,730.4 514.2,730.5 515.8,730.6 517.4,730.8 519.0,730.9 520.5,731.1 522.1,731.2 523.7,731.4 525.3,731.6 526.9,731.7 528.5,731.9 530.1,732.0 531.7,732.2 533.3,732.3 534.9,732.4 536.4,732.5 538.0,732.6 539.6,732.7 541.2,732.8 542.8,732.9 544.4,733.0 546.0,733.1 547.6,733.2 549.2,733.2 550.8,733.3 552.3,733.4 553.9,733.4 555.5,733.5 557.1,733.6 558.7,733.6 560.3,733.7 561.9,733.8 563.5,733.8 565.1,733.9 566.7,734.0 568.2,734.0 569.8,734.1 571.4,734.2 573.0,734.3 574.6,734.3 576.2,734.4 577.8,734.5 579.4,734.5 581.0,734.6 582.6,734.7 584.1,734.8 585.7,734.8 587.3,734.9 588.9,735.0 590.5,735.1 592.1,735.2 593.7,735.3 595.3,735.4 596.9,735.5 598.5,735.6 600.0,735.7 601.6,735.8 603.2,735.9 603.2,735.9" stroke="#eca48a"/><polyline points="67.4,692.3 69.0,698.9 70.6,705.6 72.2,712.5 73.8,719.6 75.4,726.9 76.9,734.4 78.5,742.0 80.1,749.8 81.7,757.7 83.3,765.7 84.9,774.1 86.5,782.7 88.1,791.1 89.7,798.7 91.3,806.3 92.8,814.1 94.4,820.2 96.0,822.6 97.6,820.4 99.2,814.6 100.8,806.9 102.4,798.8 104.0,791.2 105.6,782.7 107.2,773.7 108.7,764.7 110.3,756.3 111.9,748.1 113.5,740.1 115.1,732.3 116.7,724.8 118.3,717.4 119.9,710.2 121.5,703.2 123.1,696.6 124.6,690.3 126.2,684.2 127.8,678.4 129.4,672.8 131.0,667.4 132.6,662.1 134.2,656.9 135.8,651.8 137.4,647.0 139.0,642.4 140.5,638.1 142.1,634.1 143.7,630.2 145.3,626.4 146.9,623.0 148.5,619.7 150.1,616.8 151.7,614.2 153.3,611.6 154.9,609.2 156.4,607.0 158.0,605.1 159.6,603.6 161.2,602.2 162.8,600.8 164.4,599.5 166.0,598.3 167.6,597.4 169.2,596.9 170.8,596.6 172.3,596.7 173.9,596.7 175.5,596.8 177.1,597.0 178.7,597.1 180.3,597.3 181.9,597.5 183.5,597.7 185.1,598.0 186.7,598.3 188.2,598.8 189.8,599.3 191.4,599.8 193.0,600.3 194.6,600.7 196.2,601.1 197.8,601.3 199.4,601.4 201.0,601.4 202.6,601.3 204.1,601.2 205.7,601.0 207.3,600.7 208.9,600.5 210.5,600.2 212.1,599.9 213.7,599.6 215.3,599.3 216.9,598.9 218.5,598.4 220.0,597.8 221.6,597.2 223.2,596.5 224.8,595.9 226.4,595.4 228.0,594.9 229.6,594.6 231.2,594.5 232.8,594.6 234.4,594.7 235.9,595.0 237.5,595.4 239.1,595.8 240.7,596.2 242.3,596.7 243.9,597.2 245.5,597.7 247.1,598.2 248.7,598.8 250.3,599.4 251.8,600.0 253.4,600.7 255.0,601.5 256.6,602.2 258.2,603.0 259.8,603.7 261.4,604.4 263.0,605.1 264.6,605.7 266.2,606.2 267.7,606.7 269.3,607.1 270.9,607.5 272.5,607.9 274.1,608.3 275.7,608.7 277.3,609.0 278.9,609.4 280.5,609.7 282.1,610.0 283.6,610.3 285.2,610.5 286.8,610.8 288.4,611.0 290.0,611.2 291.6,611.4 293.2,611.6 294.8,611.8 296.4,611.9 298.0,612.1 299.5,612.3 301.1,612.5 302.7,612.7 304.3,613.0 305.9,613.2 307.5,613.5 309.1,613.8 310.7,614.0 312.3,614.3 313.9,614.6 315.4,614.9 317.0,615.2 318.6,615.4 320.2,615.7 321.8,616.0 323.4,616.2 325.0,616.5 326.6,616.8 328.2,617.1 329.8,617.3 331.3,617.5 332.9,617.7 334.5,617.7 336.1,617.6 337.7,617.4 339.3,617.1 340.9,616.6 342.5,616.0 344.1,615.4 345.7,614.6 347.2,613.7 348.8,612.7 350.4,611.4 352.0,610.0 353.9,608.0 357.4,603.3 360.9,596.9 364.4,588.4 367.9,577.7 371.4,564.6 374.9,548.2 378.4,528.6 381.9,505.8 385.4,480.5 388.9,453.7 392.4,426.9 395.9,402.4 399.4,383.4 402.9,374.4 406.4,382.9 409.9,403.1 413.4,431.4 416.9,464.9 420.4,500.9 423.9,537.0 427.4,571.4 430.9,602.8 434.4,630.4 437.9,653.9 441.4,673.1 444.9,688.5 448.4,700.5 451.9,709.6 455.4,716.4 458.9,721.3 462.4,724.8 465.9,727.3 469.4,728.9 472.9,730.0 476.3,730.7 479.8,731.2 480.8,731.3 482.4,731.4 484.0,731.5 485.6,731.6 487.2,731.7 488.7,731.7 490.3,731.8 491.9,731.8 493.5,731.8 495.1,731.8 496.7,731.9 498.3,731.9 499.9,731.9 501.5,731.9 503.1,732.0 504.6,732.0 506.2,732.1 507.8,732.2 509.4,732.2 511.0,732.3 512.6,732.3 514.2,732.4 515.8,732.4 517.4,732.5 519.0,732.5 520.5,732.6 522.1,732.6 523.7,732.7 525.3,732.7 526.9,732.8 528.5,732.8 530.1,732.9 531.7,733.0 533.3,733.0 534.9,733.1 536.4,733.1 538.0,733.2 539.6,733.2 541.2,733.3 542.8,733.3 544.4,733.4 546.0,733.4 547.6,733.5 549.2,733.6 550.8,733.6 552.3,733.7 553.9,733.7 555.5,733.8 557.1,733.8 558.7,733.9 560.3,734.0 561.9,734.0 563.5,734.1 565.1,734.1 566.7,734.2 568.2,734.3 569.8,734.3 571.4,734.4 573.0,734.4 574.6,734.5 576.2,734.6 577.8,734.6 579.4,734.7 581.0,734.8 582.6,734.8 584.1,734.9 585.7,735.0 587.3,735.0 588.9,735.1 590.5,735.2 592.1,735.3 593.7,735.3 595.3,735.4 596.9,735.5 598.5,735.6 600.0,735.7 601.6,735.8 603.2,735.9 603.2,735.9" stroke="#eca4be"/><polyline points="67.4,704.4 69.0,710.7 70.6,717.2 72.2,723.9 73.8,730.7 75.4,737.8 76.9,745.0 78.5,752.4 80.1,759.9 81.7,767.8 83.3,775.8 84.9,784.2 86.5,792.8 88.1,801.2 89.7,808.8 91.3,816.4 92.8,824.2 94.4,830.3 96.0,832.7 97.6,830.5 99.2,824.7 100.8,817.0 102.4,808.9 104.0,801.3 105.6,792.8 107.2,783.8 108.7,774.8 110.3,766.4 111.9,758.2 113.5,750.2 115.1,742.4 116.7,734.9 118.3,727.5 119.9,720.3 121.5,713.3 123.1,706.7 124.6,700.4 126.2,694.3 127.8,688.5 129.4,682.9 131.0,677.5 132.6,672.2 134.2,667.0 135.8,661.9 137.4,657.1 139.0,652.5 140.5,648.2 142.1,644.2 143.7,640.3 145.3,636.5 146.9,633.1 148.5,629.8 150.1,626.9 151.7,624.3 153.3,621.7 154.9,619.3 156.4,617.1 158.0,615.2 159.6,613.7 161.2,612.3 162.8,610.9 164.4,609.6 166.0,608.4 167.6,607.5 169.2,607.0 170.8,606.7 172.3,606.8 173.9,606.8 175.5,606.9 177.1,607.1 178.7,607.2 180.3,607.4 181.9,607.6 183.5,607.8 185.1,608.1 186.7,608.4 188.2,608.9 189.8,609.4 191.4,609.9 193.0,610.4 194.6,610.8 196.2,611.2 197.8,611.4 199.4,611.5 201.0,611.5 202.6,611.4 204.1,611.3 205.7,611.1 207.3,610.8 208.9,610.6 210.5,610.3 212.1,610.0 213.7,609.7 215.3,609.4 216.9,609.0 218.5,608.5 220.0,607.9 221.6,607.3 223.2,606.6 224.8,606.0 226.4,605.5 228.0,605.0 229.6,604.7 231.2,604.6 232.8,604.7 234.4,604.9 235.9,605.1 237.5,605.5 239.1,605.9 240.7,606.3 242.3,606.8 243.9,607.3 245.5,607.8 247.1,608.3 248.7,608.9 250.3,609.5 251.8,610.1 253.4,610.8 255.0,611.6 256.6,612.3 258.2,613.1 259.8,613.8 261.4,614.6 263.0,615.2 264.6,615.8 266.2,616.3 267.7,616.8 269.3,617.2 270.9,617.6 272.5,618.0 274.1,618.4 275.7,618.7 277.3,619.0 278.9,619.3 280.5,619.6 282.1,619.9 283.6,620.1 285.2,620.4 286.8,620.6 288.4,620.7 290.0,620.9 291.6,621.1 293.2,621.2 294.8,621.4 296.4,621.5 298.0,621.6 299.5,621.8 301.1,622.0 302.7,622.2 304.3,622.4 305.9,622.6 307.5,622.8 309.1,623.0 310.7,623.3 312.3,623.5 313.9,623.8 315.4,624.0 317.0,624.2 318.6,624.5 320.2,624.7 321.8,624.9 323.4,625.1 325.0,625.3 326.6,625.6 328.2,625.8 329.8,626.0 331.3,626.1 332.9,626.1 334.5,626.1 336.1,625.9 337.7,625.6 339.3,625.2 340.9,624.6 342.5,623.9 344.1,623.1 345.7,622.2 347.2,621.1 348.8,619.8 350.4,618.4 352.0,616.6 356.3,610.5 359.8,603.5 363.3,594.1 366.8,582.1 370.3,567.2 373.8,548.7 377.3,526.2 380.8,499.5 384.3,469.1 387.8,435.9 391.3,400.9 394.8,366.4 398.3,335.3 401.8,311.3 405.3,299.9 408.8,310.2 412.3,334.6 415.8,368.8 419.3,409.2 422.8,452.5 426.3,496.1 429.8,537.7 433.3,575.7 436.8,609.2 440.3,637.6 443.8,661.0 447.3,679.7 450.7,694.4 454.2,705.5 457.7,713.8 461.2,719.8 464.7,724.0 468.2,726.9 471.7,728.9 475.2,730.1 478.7,730.8 480.8,731.0 482.4,731.2 484.0,731.2 485.6,731.2 487.2,731.2 488.7,731.2 490.3,731.1 491.9,731.1 493.5,731.0 495.1,731.0 496.7,730.9 498.3,730.9 499.9,730.8 501.5,730.9 503.1,730.9 504.6,731.0 506.2,731.1 507.8,731.2 509.4,731.3 511.0,731.5 512.6,731.6 514.2,731.8 515.8,732.0 517.4,732.1 519.0,732.3 520.5,732.4 522.1,732.6 523.7,732.7 525.3,732.9 526.9,733.0 528.5,733.1 530.1,733.2 531.7,733.3 533.3,733.4 534.9,733.5 536.4,733.6 538.0,733.6 539.6,733.7 541.2,733.8 542.8,733.8 544.4,733.9 546.0,733.9 547.6,734.0 549.2,734.0 550.8,734.1 552.3,734.1 553.9,734.2 555.5,734.2 557.1,734.2 558.7,734.3 560.3,734.3 561.9,734.4 563.5,734.4 565.1,734.5 566.7,734.5 568.2,734.6 569.8,734.6 571.4,734.7 573.0,734.7 574.6,734.8 576.2,734.8 577.8,734.9 579.4,734.9 581.0,735.0 582.6,735.0 584.1,735.1 585.7,735.2 587.3,735.2 588.9,735.3 590.5,735.3 592.1,735.4 593.7,735.5 595.3,735.5 596.9,735.6 598.5,735.7 600.0,735.7 601.6,735.8 603.2,735.9 603.2,735.9" stroke="#70bea4"/><polyline points="67.4,707.8 69.0,714.0 70.6,720.4 72.2,727.0 73.8,733.7 75.4,740.7 76.9,747.8 78.5,755.1 80.1,762.6 81.7,770.5 83.3,778.5 84.9,786.8 86.5,795.5 88.1,803.9 89.7,811.4 91.3,819.1 92.8,826.9 94.4,832.9 96.0,835.4 97.6,833.1 99.2,827.4 100.8,819.7 102.4,811.5 104.0,803.9 105.6,795.5 107.2,786.4 108.7,777.4 110.3,769.0 111.9,760.8 113.5,752.8 115.1,745.1 116.7,737.5 118.3,730.1 119.9,722.9 121.5,716.0 123.1,709.4 124.6,703.1 126.2,697.0 127.8,691.2 129.4,685.5 131.0,680.1 132.6,674.8 134.2,669.6 135.8,664.6 137.4,659.7 139.0,655.1 140.5,650.9 142.1,646.8 143.7,642.9 145.3,639.2 146.9,635.7 148.5,632.5 150.1,629.6 151.7,626.9 153.3,624.3 154.9,621.9 156.4,619.8 158.0,617.9 159.6,616.3 161.2,614.9 162.8,613.5 164.4,612.2 166.0,611.1 167.6,610.2 169.2,609.6 170.8,609.4 172.3,609.4 173.9,609.5 175.5,609.6 177.1,609.7 178.7,609.9 180.3,610.1 181.9,610.3 183.5,610.5 185.1,610.7 186.7,611.1 188.2,611.6 189.8,612.1 191.4,612.6 193.0,613.1 194.6,613.5 196.2,613.9 197.8,614.1 199.4,614.2 201.0,614.2 202.6,614.1 204.1,613.9 205.7,613.7 207.3,613.5 208.9,613.2 210.5,613.0 212.1,612.7 213.7,612.4 215.3,612.1 216.9,611.7 218.5,611.2 220.0,610.6 221.6,610.0 223.2,609.3 224.8,608.7 226.4,608.1 228.0,607.7 229.6,607.4 231.2,607.3 232.8,607.3 234.4,607.5 235.9,607.8 237.5,608.1 239.1,608.5 240.7,609.0 242.3,609.5 243.9,610.0 245.5,610.5 247.1,611.0 248.7,611.5 250.3,612.1 251.8,612.8 253.4,613.5 255.0,614.2 256.6,615.0 258.2,615.8 259.8,616.5 261.4,617.2 263.0,617.9 264.6,618.5 266.2,619.0 267.7,619.4 269.3,619.9 270.9,620.3 272.5,620.7 274.1,621.1 275.7,621.4 277.3,621.7 278.9,622.0 280.5,622.2 282.1,622.5 283.6,622.7 285.2,622.9 286.8,623.1 288.4,623.3 290.0,623.5 291.6,623.6 293.2,623.8 294.8,623.9 296.4,624.0 298.0,624.2 299.5,624.3 301.1,624.5 302.7,624.6 304.3,624.8 305.9,625.0 307.5,625.2 309.1,625.5 310.7,625.7 312.3,625.9 313.9,626.2 315.4,626.4 317.0,626.6 318.6,626.9 320.2,627.1 321.8,627.3 323.4,627.5 325.0,627.7 326.6,627.9 328.2,628.2 329.8,628.4 331.3,628.5 332.9,628.5 334.5,628.5 336.1,628.4 337.7,628.1 339.3,627.7 340.9,627.1 342.5,626.5 344.1,625.7 345.7,624.8 347.2,623.8 348.8,622.6 350.4,621.2 352.0,619.5 353.9,617.1 357.4,611.5 360.9,603.8 364.4,593.6 367.9,580.5 371.4,564.2 374.9,544.0 378.4,519.5 381.9,491.1 385.4,459.5 388.9,425.9 392.4,392.3 395.9,361.7 399.4,337.8 402.9,326.5 406.4,335.5 409.9,357.1 413.4,387.4 416.9,423.4 420.4,462.4 423.9,502.0 427.4,540.3 430.9,575.6 434.4,607.2 437.9,634.4 441.4,657.2 444.9,675.8 448.4,690.7 451.9,702.2 455.4,711.0 458.9,717.5 462.4,722.3 465.9,725.6 469.4,727.9 472.9,729.5 476.3,730.4 479.8,731.0 480.8,731.0 482.4,731.1 484.0,731.2 485.6,731.2 487.2,731.2 488.7,731.2 490.3,731.1 491.9,731.1 493.5,731.0 495.1,730.9 496.7,730.9 498.3,730.9 499.9,730.8 501.5,730.9 503.1,730.9 504.6,731.0 506.2,731.1 507.8,731.2 509.4,731.3 511.0,731.5 512.6,731.6 514.2,731.8 515.8,732.0 517.4,732.1 519.0,732.3 520.5,732.4 522.1,732.6 523.7,732.7 525.3,732.9 526.9,733.0 528.5,733.1 530.1,733.2 531.7,733.3 533.3,733.4 534.9,733.5 536.4,733.6 538.0,733.6 539.6,733.7 541.2,733.8 542.8,733.8 544.4,733.9 546.0,733.9 547.6,734.0 549.2,734.0 550.8,734.1 552.3,734.1 553.9,734.2 555.5,734.2 557.1,734.2 558.7,734.3 560.3,734.3 561.9,734.4 563.5,734.4 565.1,734.5 566.7,734.5 568.2,734.6 569.8,734.6 571.4,734.7 573.0,734.7 574.6,734.8 576.2,734.8 577.8,734.9 579.4,734.9 581.0,735.0 582.6,735.0 584.1,735.1 585.7,735.2 587.3,735.2 588.9,735.3 590.5,735.3 592.1,735.4 593.7,735.5 595.3,735.5 596.9,735.6 598.5,735.7 600.0,735.7 601.6,735.8 603.2,735.9 603.2,735.9" stroke="#7db87d"/><polyline points="67.4,711.1 69.0,717.2 70.6,723.6 72.2,730.0 73.8,736.7 75.4,743.6 76.9,750.6 78.5,757.9 80.1,765.2 81.7,773.1 83.3,781.1 84.9,789.5 86.5,798.2 88.1,806.6 89.7,814.1 91.3,821.7 92.8,829.5 94.4,835.6 96.0,838.0 97.6,835.8 99.2,830.1 100.8,822.3 102.4,814.2 104.0,806.6 105.6,798.1 107.2,789.1 108.7,780.1 110.3,771.7 111.9,763.5 113.5,755.5 115.1,747.7 116.7,740.2 118.3,732.8 119.9,725.6 121.5,718.6 123.1,712.0 124.6,705.7 126.2,699.7 127.8,693.8 129.4,688.2 131.0,682.8 132.6,677.5 134.2,672.3 135.8,667.2 137.4,662.4 139.0,657.8 140.5,653.5 142.1,649.5 143.7,645.6 145.3,641.9 146.9,638.4 148.5,635.2 150.1,632.3 151.7,629.6 153.3,627.0 154.9,624.6 156.4,622.4 158.0,620.5 159.6,619.0 161.2,617.6 162.8,616.2 164.4,614.9 166.0,613.8 167.6,612.9 169.2,612.3 170.8,612.1 172.3,612.1 173.9,612.2 175.5,612.3 177.1,612.4 178.7,612.6 180.3,612.7 181.9,612.9 183.5,613.1 185.1,613.4 186.7,613.8 188.2,614.2 189.8,614.7 191.4,615.2 193.0,615.7 194.6,616.2 196.2,616.5 197.8,616.8 199.4,616.8 201.0,616.8 202.6,616.7 204.1,616.6 205.7,616.4 207.3,616.1 208.9,615.9 210.5,615.6 212.1,615.3 213.7,615.0 215.3,614.7 216.9,614.3 218.5,613.8 220.0,613.3 221.6,612.6 223.2,612.0 224.8,611.3 226.4,610.8 228.0,610.3 229.6,610.0 231.2,609.9 232.8,610.0 234.4,610.2 235.9,610.4 237.5,610.8 239.1,611.2 240.7,611.7 242.3,612.2 243.9,612.7 245.5,613.2 247.1,613.7 248.7,614.2 250.3,614.8 251.8,615.4 253.4,616.2 255.0,616.9 256.6,617.7 258.2,618.4 259.8,619.2 261.4,619.9 263.0,620.5 264.6,621.1 266.2,621.6 267.7,622.1 269.3,622.5 270.9,622.9 272.5,623.3 274.1,623.7 275.7,624.0 277.3,624.3 278.9,624.6 280.5,624.9 282.1,625.1 283.6,625.3 285.2,625.5 286.8,625.7 288.4,625.9 290.0,626.0 291.6,626.2 293.2,626.3 294.8,626.4 296.4,626.5 298.0,626.7 299.5,626.8 301.1,626.9 302.7,627.1 304.3,627.3 305.9,627.5 307.5,627.7 309.1,627.9 310.7,628.1 312.3,628.4 313.9,628.6 315.4,628.8 317.0,629.0 318.6,629.2 320.2,629.5 321.8,629.6 323.4,629.8 325.0,630.1 326.6,630.3 328.2,630.5 329.8,630.7 331.3,630.9 332.9,630.9 334.5,630.9 336.1,630.8 337.7,630.6 339.3,630.2 340.9,629.8 342.5,629.2 344.1,628.6 345.7,627.8 347.2,627.0 348.8,626.0 350.4,624.8 352.0,623.5 356.8,618.0 360.3,612.1 363.8,604.2 367.3,594.1 370.8,581.3 374.3,565.0 377.8,544.5 381.3,519.7 384.8,490.3 388.3,456.8 391.8,419.7 395.3,380.7 398.8,342.2 402.3,307.5 405.8,280.7 409.2,268.1 412.7,279.4 416.2,306.2 419.7,343.8 423.2,388.1 426.7,435.5 430.2,483.0 433.7,528.2 437.2,569.3 440.7,605.3 444.2,635.8 447.7,660.8 451.2,680.8 454.7,696.3 458.2,707.9 461.7,716.5 465.2,722.7 468.7,727.0 472.2,729.9 475.7,731.8 479.2,733.0 480.8,733.4 482.4,733.7 484.0,734.0 485.6,734.2 487.2,734.3 488.7,734.4 490.3,734.5 491.9,734.6 493.5,734.7 495.1,734.8 496.7,734.8 498.3,734.9 499.9,735.0 501.5,735.0 503.1,735.1 504.6,735.1 506.2,735.2 507.8,735.2 509.4,735.3 511.0,735.3 512.6,735.4 514.2,735.4 515.8,735.5 517.4,735.5 519.0,735.5 520.5,735.6 522.1,735.6 523.7,735.6 525.3,735.6 526.9,735.6 528.5,735.7 530.1,735.7 531.7,735.7 533.3,735.7 534.9,735.7 536.4,735.7 538.0,735.7 539.6,735.7 541.2,735.7 542.8,735.7 544.4,735.7 546.0,735.7 547.6,735.7 549.2,735.7 550.8,735.7 552.3,735.7 553.9,735.8 555.5,735.8 557.1,735.8 558.7,735.8 560.3,735.8 561.9,735.8 563.5,735.8 565.1,735.8 566.7,735.8 568.2,735.8 569.8,735.8 571.4,735.8 573.0,735.8 574.6,735.8 576.2,735.8 577.8,735.8 579.4,735.8 581.0,735.8 582.6,735.8 584.1,735.9 585.7,735.9 587.3,735.9 588.9,735.9 590.5,735.9 592.1,735.9 593.7,735.9 595.3,735.9 596.9,735.9 598.5,735.9 600.0,735.9 601.6,735.9 603.2,735.9 603.2,735.9" stroke="#4fabb1"/><polyline points="67.4,714.4 69.0,720.5 70.6,726.7 72.2,733.1 73.8,739.7 75.4,746.5 76.9,753.5 78.5,760.6 80.1,767.9 81.7,775.8 83.3,783.8 84.9,792.2 86.5,800.8 88.1,809.2 89.7,816.8 91.3,824.4 92.8,832.2 94.4,838.2 96.0,840.7 97.6,838.4 99.2,832.7 100.8,825.0 102.4,816.8 104.0,809.2 105.6,800.8 107.2,791.7 108.7,782.7 110.3,774.3 111.9,766.2 113.5,758.2 115.1,750.4 116.7,742.8 118.3,735.4 119.9,728.2 121.5,721.3 123.1,714.7 124.6,708.4 126.2,702.3 127.8,696.5 129.4,690.9 131.0,685.4 132.6,680.1 134.2,674.9 135.8,669.9 137.4,665.0 139.0,660.5 140.5,656.2 142.1,652.1 143.7,648.2 145.3,644.5 146.9,641.0 148.5,637.8 150.1,634.9 151.7,632.2 153.3,629.7 154.9,627.3 156.4,625.1 158.0,623.2 159.6,621.6 161.2,620.2 162.8,618.9 164.4,617.6 166.0,616.4 167.6,615.5 169.2,614.9 170.8,614.7 172.3,614.7 173.9,614.8 175.5,614.9 177.1,615.1 178.7,615.2 180.3,615.4 181.9,615.6 183.5,615.8 185.1,616.0 186.7,616.4 188.2,616.9 189.8,617.4 191.4,617.9 193.0,618.4 194.6,618.8 196.2,619.2 197.8,619.4 199.4,619.5 201.0,619.5 202.6,619.4 204.1,619.2 205.7,619.0 207.3,618.8 208.9,618.5 210.5,618.3 212.1,618.0 213.7,617.7 215.3,617.4 216.9,617.0 218.5,616.5 220.0,615.9 221.6,615.3 223.2,614.6 224.8,614.0 226.4,613.4 228.0,613.0 229.6,612.7 231.2,612.6 232.8,612.7 234.4,612.8 235.9,613.1 237.5,613.4 239.1,613.9 240.7,614.3 242.3,614.8 243.9,615.3 245.5,615.8 247.1,616.3 248.7,616.8 250.3,617.4 251.8,618.1 253.4,618.8 255.0,619.6 256.6,620.3 258.2,621.1 259.8,621.8 261.4,622.5 263.0,623.2 264.6,623.8 266.2,624.3 267.7,624.7 269.3,625.2 270.9,625.6 272.5,626.0 274.1,626.4 275.7,626.7 277.3,627.0 278.9,627.2 280.5,627.5 282.1,627.7 283.6,627.9 285.2,628.1 286.8,628.3 288.4,628.5 290.0,628.6 291.6,628.7 293.2,628.8 294.8,628.9 296.4,629.1 298.0,629.2 299.5,629.3 301.1,629.4 302.7,629.6 304.3,629.8 305.9,629.9 307.5,630.1 309.1,630.3 310.7,630.6 312.3,630.8 313.9,631.0 315.4,631.2 317.0,631.4 318.6,631.6 320.2,631.8 321.8,632.0 323.4,632.2 325.0,632.4 326.6,632.7 328.2,632.9 329.8,633.1 331.3,633.2 332.9,633.3 334.5,633.2 336.1,633.1 337.7,632.8 339.3,632.5 340.9,632.1 342.5,631.5 344.1,630.8 345.7,630.1 347.2,629.2 348.8,628.2 350.4,626.9 352.0,625.5 353.6,623.8 357.1,619.0 360.6,612.4 364.1,603.5 367.6,591.8 371.1,577.0 374.6,558.0 378.1,534.4 381.6,505.8 385.1,472.7 388.6,435.6 392.1,395.9 395.6,356.3 399.1,320.1 402.6,292.0 406.1,278.7 409.6,289.4 413.1,315.1 416.6,350.9 420.1,393.3 423.6,438.8 427.1,484.6 430.6,528.4 434.1,568.4 437.6,603.7 441.1,633.8 444.5,658.6 448.0,678.6 451.5,694.2 455.0,706.1 458.5,714.9 462.0,721.4 465.5,725.9 469.0,729.1 472.5,731.2 476.0,732.5 479.5,733.4 480.8,733.6 482.4,733.7 484.0,733.8 485.6,733.9 487.2,733.9 488.7,733.9 490.3,733.8 491.9,733.6 493.5,733.5 495.1,733.3 496.7,733.1 498.3,732.8 499.9,732.6 501.5,732.4 503.1,732.2 504.6,732.0 506.2,731.8 507.8,731.7 509.4,731.6 511.0,731.5 512.6,731.5 514.2,731.5 515.8,731.5 517.4,731.7 519.0,731.8 520.5,732.0 522.1,732.2 523.7,732.4 525.3,732.7 526.9,733.0 528.5,733.2 530.1,733.5 531.7,733.7 533.3,734.0 534.9,734.2 536.4,734.4 538.0,734.6 539.6,734.7 541.2,734.9 542.8,735.0 544.4,735.1 546.0,735.2 547.6,735.2 549.2,735.3 550.8,735.3 552.3,735.4 553.9,735.4 555.5,735.4 557.1,735.5 558.7,735.5 560.3,735.5 561.9,735.5 563.5,735.5 565.1,735.6 566.7,735.6 568.2,735.6 569.8,735.6 571.4,735.6 573.0,735.6 574.6,735.6 576.2,735.7 577.8,735.7 579.4,735.7 581.0,735.7 582.6,735.7 584.1,735.7 585.7,735.7 587.3,735.8 588.9,735.8 590.5,735.8 592.1,735.8 593.7,735.8 595.3,735.8 596.9,735.9 598.5,735.9 600.0,735.9 601.6,735.9 603.2,735.9 603.2,735.9" stroke="#8ab8e6"/><polyline points="67.4,717.7 69.0,723.7 70.6,729.9 72.2,736.2 73.8,742.7 75.4,749.4 76.9,756.3 78.5,763.3 80.1,770.6 81.7,778.5 83.3,786.4 84.9,794.8 86.5,803.5 88.1,811.9 89.7,819.4 91.3,827.1 92.8,834.8 94.4,840.9 96.0,843.3 97.6,841.1 99.2,835.4 100.8,827.7 102.4,819.5 104.0,811.9 105.6,803.5 107.2,794.4 108.7,785.4 110.3,777.0 111.9,768.8 113.5,760.8 115.1,753.0 116.7,745.5 118.3,738.1 119.9,730.9 121.5,723.9 123.1,717.3 124.6,711.0 126.2,705.0 127.8,699.1 129.4,693.5 131.0,688.1 132.6,682.8 134.2,677.6 135.8,672.5 137.4,667.7 139.0,663.1 140.5,658.8 142.1,654.8 143.7,650.9 145.3,647.2 146.9,643.7 148.5,640.5 150.1,637.6 151.7,634.9 153.3,632.3 154.9,629.9 156.4,627.7 158.0,625.9 159.6,624.3 161.2,622.9 162.8,621.5 164.4,620.2 166.0,619.1 167.6,618.2 169.2,617.6 170.8,617.4 172.3,617.4 173.9,617.5 175.5,617.6 177.1,617.7 178.7,617.9 180.3,618.1 181.9,618.2 183.5,618.4 185.1,618.7 186.7,619.1 188.2,619.5 189.8,620.0 191.4,620.5 193.0,621.0 194.6,621.5 196.2,621.8 197.8,622.1 199.4,622.2 201.0,622.1 202.6,622.0 204.1,621.9 205.7,621.7 207.3,621.5 208.9,621.2 210.5,620.9 212.1,620.6 213.7,620.3 215.3,620.0 216.9,619.7 218.5,619.2 220.0,618.6 221.6,617.9 223.2,617.3 224.8,616.7 226.4,616.1 228.0,615.7 229.6,615.4 231.2,615.2 232.8,615.3 234.4,615.5 235.9,615.8 237.5,616.1 239.1,616.5 240.7,617.0 242.3,617.5 243.9,618.0 245.5,618.5 247.1,619.0 248.7,619.5 250.3,620.1 251.8,620.8 253.4,621.5 255.0,622.2 256.6,623.0 258.2,623.7 259.8,624.5 261.4,625.2 263.0,625.8 264.6,626.4 266.2,626.9 267.7,627.4 269.3,627.8 270.9,628.3 272.5,628.6 274.1,629.0 275.7,629.3 277.3,629.6 278.9,629.9 280.5,630.1 282.1,630.3 283.6,630.5 285.2,630.7 286.8,630.9 288.4,631.0 290.0,631.2 291.6,631.3 293.2,631.4 294.8,631.5 296.4,631.6 298.0,631.7 299.5,631.8 301.1,631.9 302.7,632.1 304.3,632.2 305.9,632.4 307.5,632.6 309.1,632.8 310.7,633.0 312.3,633.2 313.9,633.4 315.4,633.6 317.0,633.8 318.6,634.0 320.2,634.2 321.8,634.4 323.4,634.6 325.0,634.8 326.6,635.1 328.2,635.3 329.8,635.5 331.3,635.7 332.9,635.8 334.5,635.8 336.1,635.7 337.7,635.6 339.3,635.3 340.9,635.0 342.5,634.6 344.1,634.2 345.7,633.6 347.2,633.1 348.8,632.4 350.4,631.6 352.0,630.6 353.9,629.2 357.4,626.0 360.9,621.4 364.4,615.2 367.9,607.0 371.4,596.6 374.9,583.1 378.4,565.9 381.9,545.1 385.4,521.1 388.9,494.7 392.4,467.3 395.9,441.7 399.4,421.4 402.9,411.6 406.4,419.2 409.9,437.4 413.4,462.8 416.9,492.8 420.4,525.1 423.9,557.5 427.4,588.4 430.9,616.6 434.4,641.3 437.9,662.4 441.4,679.6 444.9,693.4 448.4,704.2 451.9,712.4 455.4,718.5 458.9,722.9 462.4,726.0 465.9,728.2 469.4,729.6 472.9,730.4 476.3,730.8 479.8,730.9 480.8,730.9 482.4,730.9 484.0,730.8 485.6,730.7 487.2,730.5 488.7,730.3 490.3,730.2 491.9,730.0 493.5,729.8 495.1,729.7 496.7,729.5 498.3,729.4 499.9,729.4 501.5,729.4 503.1,729.4 504.6,729.5 506.2,729.6 507.8,729.7 509.4,729.9 511.0,730.1 512.6,730.3 514.2,730.6 515.8,730.8 517.4,731.1 519.0,731.3 520.5,731.6 522.1,731.8 523.7,732.1 525.3,732.3 526.9,732.5 528.5,732.6 530.1,732.8 531.7,732.9 533.3,733.1 534.9,733.2 536.4,733.3 538.0,733.4 539.6,733.5 541.2,733.5 542.8,733.6 544.4,733.7 546.0,733.7 547.6,733.8 549.2,733.8 550.8,733.9 552.3,734.0 553.9,734.0 555.5,734.1 557.1,734.1 558.7,734.2 560.3,734.2 561.9,734.3 563.5,734.3 565.1,734.4 566.7,734.4 568.2,734.5 569.8,734.5 571.4,734.6 573.0,734.6 574.6,734.7 576.2,734.7 577.8,734.8 579.4,734.9 581.0,734.9 582.6,735.0 584.1,735.0 585.7,735.1 587.3,735.2 588.9,735.2 590.5,735.3 592.1,735.4 593.7,735.4 595.3,735.5 596.9,735.6 598.5,735.6 600.0,735.7 601.6,735.8 603.2,735.9 603.2,735.9" stroke="#4f5fa1"/><polyline points="67.4,721.1 69.0,726.9 70.6,733.0 72.2,739.3 73.8,745.7 75.4,752.3 76.9,759.1 78.5,766.1 80.1,773.2 81.7,781.1 83.3,789.1 84.9,797.5 86.5,806.1 88.1,814.5 89.7,822.1 91.3,829.7 92.8,837.5 94.4,843.6 96.0,846.0 97.6,843.8 99.2,838.0 100.8,830.3 102.4,822.1 104.0,814.6 105.6,806.1 107.2,797.1 108.7,788.1 110.3,779.7 111.9,771.5 113.5,763.5 115.1,755.7 116.7,748.1 118.3,740.8 119.9,733.5 121.5,726.6 123.1,720.0 124.6,713.7 126.2,707.6 127.8,701.8 129.4,696.2 131.0,690.7 132.6,685.4 134.2,680.3 135.8,675.2 137.4,670.4 139.0,665.8 140.5,661.5 142.1,657.5 143.7,653.6 145.3,649.8 146.9,646.4 148.5,643.1 150.1,640.2 151.7,637.6 153.3,635.0 154.9,632.6 156.4,630.4 158.0,628.5 159.6,626.9 161.2,625.5 162.8,624.2 164.4,622.9 166.0,621.7 167.6,620.8 169.2,620.2 170.8,620.0 172.3,620.1 173.9,620.1 175.5,620.2 177.1,620.4 178.7,620.5 180.3,620.7 181.9,620.9 183.5,621.1 185.1,621.4 186.7,621.7 188.2,622.2 189.8,622.7 191.4,623.2 193.0,623.7 194.6,624.1 196.2,624.5 197.8,624.7 199.4,624.8 201.0,624.8 202.6,624.7 204.1,624.5 205.7,624.4 207.3,624.1 208.9,623.9 210.5,623.6 212.1,623.3 213.7,623.0 215.3,622.7 216.9,622.3 218.5,621.8 220.0,621.2 221.6,620.6 223.2,619.9 224.8,619.3 226.4,618.8 228.0,618.3 229.6,618.0 231.2,617.9 232.8,618.0 234.4,618.1 235.9,618.4 237.5,618.8 239.1,619.2 240.7,619.6 242.3,620.1 243.9,620.6 245.5,621.1 247.1,621.6 248.7,622.1 250.3,622.7 251.8,623.4 253.4,624.1 255.0,624.9 256.6,625.6 258.2,626.4 259.8,627.1 261.4,627.8 263.0,628.5 264.6,629.1 266.2,629.6 267.7,630.1 269.3,630.5 270.9,630.9 272.5,631.3 274.1,631.7 275.7,632.0 277.3,632.2 278.9,632.5 280.5,632.7 282.1,632.9 283.6,633.1 285.2,633.3 286.8,633.5 288.4,633.6 290.0,633.7 291.6,633.8 293.2,633.9 294.8,634.0 296.4,634.1 298.0,634.2 299.5,634.3 301.1,634.4 302.7,634.5 304.3,634.7 305.9,634.9 307.5,635.0 309.1,635.2 310.7,635.4 312.3,635.6 313.9,635.8 315.4,636.0 317.0,636.2 318.6,636.4 320.2,636.6 321.8,636.8 323.4,636.9 325.0,637.1 326.6,637.4 328.2,637.6 329.8,637.8 331.3,637.9 332.9,638.0 334.5,638.0 336.1,637.9 337.7,637.7 339.3,637.4 340.9,637.1 342.5,636.6 344.1,636.1 345.7,635.5 347.2,634.9 348.8,634.1 350.4,633.2 352.0,632.1 356.8,627.8 360.3,623.2 363.8,616.8 367.3,608.6 370.8,598.2 374.3,584.5 377.8,567.1 381.3,545.5 384.8,519.4 388.3,489.1 391.8,455.0 395.3,418.5 398.8,382.0 402.3,348.7 405.8,322.8 409.2,310.6 412.7,320.4 416.2,344.0 419.7,376.9 423.2,415.9 426.7,457.8 430.2,500.0 433.7,540.4 437.2,577.4 440.7,610.0 444.2,637.7 447.7,660.6 451.2,679.0 454.7,693.4 458.2,704.5 461.7,712.7 465.2,718.7 468.7,723.0 472.2,726.0 475.7,728.0 479.2,729.3 480.8,729.8 482.4,730.1 484.0,730.4 485.6,730.7 487.2,730.9 488.7,731.0 490.3,731.1 491.9,731.2 493.5,731.3 495.1,731.4 496.7,731.4 498.3,731.5 499.9,731.5 501.5,731.6 503.1,731.7 504.6,731.8 506.2,731.8 507.8,731.9 509.4,732.0 511.0,732.1 512.6,732.1 514.2,732.2 515.8,732.3 517.4,732.3 519.0,732.4 520.5,732.5 522.1,732.5 523.7,732.6 525.3,732.7 526.9,732.7 528.5,732.8 530.1,732.8 531.7,732.9 533.3,732.9 534.9,733.0 536.4,733.1 538.0,733.1 539.6,733.2 541.2,733.2 542.8,733.3 544.4,733.3 546.0,733.4 547.6,733.5 549.2,733.5 550.8,733.6 552.3,733.6 553.9,733.7 555.5,733.7 557.1,733.8 558.7,733.9 560.3,733.9 561.9,734.0 563.5,734.0 565.1,734.1 566.7,734.2 568.2,734.2 569.8,734.3 571.4,734.3 573.0,734.4 574.6,734.5 576.2,734.5 577.8,734.6 579.4,734.7 581.0,734.7 582.6,734.8 584.1,734.9 585.7,735.0 587.3,735.0 588.9,735.1 590.5,735.2 592.1,735.3 593.7,735.3 595.3,735.4 596.9,735.5 598.5,735.6 600.0,735.7 601.6,735.8 603.2,735.9 603.2,735.9" stroke="#55b1be"/><polyline points="67.4,724.4 69.0,730.2 70.6,736.2 72.2,742.3 73.8,748.7 75.4,755.2 76.9,761.9 78.5,768.8 80.1,775.9 81.7,783.8 83.3,791.8 84.9,800.1 86.5,808.8 88.1,817.2 89.7,824.7 91.3,832.4 92.8,840.2 94.4,846.2 96.0,848.7 97.6,846.4 99.2,840.7 100.8,833.0 102.4,824.8 104.0,817.2 105.6,808.8 107.2,799.7 108.7,790.7 110.3,782.3 111.9,774.1 113.5,766.1 115.1,758.3 116.7,750.8 118.3,743.4 119.9,736.2 121.5,729.3 123.1,722.6 124.6,716.4 126.2,710.3 127.8,704.5 129.4,698.8 131.0,693.4 132.6,688.1 134.2,682.9 135.8,677.9 137.4,673.0 139.0,668.4 140.5,664.2 142.1,660.1 143.7,656.2 145.3,652.5 146.9,649.0 148.5,645.8 150.1,642.9 151.7,640.2 153.3,637.6 154.9,635.2 156.4,633.1 158.0,631.2 159.6,629.6 161.2,628.2 162.8,626.8 164.4,625.5 166.0,624.4 167.6,623.5 169.2,622.9 170.8,622.7 172.3,622.7 173.9,622.8 175.5,622.9 177.1,623.0 178.7,623.2 180.3,623.4 181.9,623.6 183.5,623.8 185.1,624.0 186.7,624.4 188.2,624.8 189.8,625.3 191.4,625.9 193.0,626.4 194.6,626.8 196.2,627.2 197.8,627.4 199.4,627.5 201.0,627.4 202.6,627.4 204.1,627.2 205.7,627.0 207.3,626.8 208.9,626.5 210.5,626.2 212.1,625.9 213.7,625.6 215.3,625.4 216.9,625.0 218.5,624.5 220.0,623.9 221.6,623.2 223.2,622.6 224.8,622.0 226.4,621.4 228.0,621.0 229.6,620.7 231.2,620.6 232.8,620.6 234.4,620.8 235.9,621.1 237.5,621.4 239.1,621.8 240.7,622.3 242.3,622.8 243.9,623.3 245.5,623.8 247.1,624.3 248.7,624.8 250.3,625.4 251.8,626.1 253.4,626.8 255.0,627.5 256.6,628.3 258.2,629.1 259.8,629.8 261.4,630.5 263.0,631.2 264.6,631.8 266.2,632.3 267.7,632.7 269.3,633.2 270.9,633.6 272.5,634.0 274.1,634.3 275.7,634.6 277.3,634.9 278.9,635.1 280.5,635.3 282.1,635.5 283.6,635.7 285.2,635.9 286.8,636.0 288.4,636.2 290.0,636.3 291.6,636.4 293.2,636.5 294.8,636.5 296.4,636.6 298.0,636.7 299.5,636.8 301.1,636.9 302.7,637.0 304.3,637.2 305.9,637.3 307.5,637.5 309.1,637.7 310.7,637.9 312.3,638.0 313.9,638.2 315.4,638.4 317.0,638.6 318.6,638.8 320.2,639.0 321.8,639.1 323.4,639.3 325.0,639.5 326.6,639.7 328.2,639.9 329.8,640.1 331.3,640.3 332.9,640.4 334.5,640.4 336.1,640.3 337.7,640.1 339.3,639.9 340.9,639.6 342.5,639.2 344.1,638.8 345.7,638.3 347.2,637.7 348.8,637.1 350.4,636.3 352.0,635.4 355.5,632.8 359.0,629.1 362.5,624.0 366.0,617.1 369.5,608.2 373.0,596.4 376.5,581.0 380.0,561.6 383.5,538.0 387.0,510.6 390.5,480.2 394.0,448.9 397.5,419.5 401.0,396.2 404.5,385.0 408.0,393.3 411.5,412.9 415.0,440.5 418.5,473.0 422.0,507.9 425.5,543.1 429.0,576.6 432.5,607.4 436.0,634.4 439.5,657.5 443.0,676.6 446.5,691.9 450.0,703.8 453.5,713.0 457.0,719.7 460.4,724.7 463.9,728.1 467.4,730.6 470.9,732.2 474.4,733.2 477.9,733.9 480.8,734.2 482.4,734.3 484.0,734.4 485.6,734.4 487.2,734.5 488.7,734.5 490.3,734.5 491.9,734.5 493.5,734.5 495.1,734.5 496.7,734.5 498.3,734.5 499.9,734.5 501.5,734.5 503.1,734.5 504.6,734.5 506.2,734.5 507.8,734.6 509.4,734.6 511.0,734.7 512.6,734.7 514.2,734.8 515.8,734.9 517.4,734.9 519.0,735.0 520.5,735.0 522.1,735.1 523.7,735.1 525.3,735.2 526.9,735.2 528.5,735.2 530.1,735.3 531.7,735.3 533.3,735.3 534.9,735.4 536.4,735.4 538.0,735.4 539.6,735.4 541.2,735.4 542.8,735.4 544.4,735.5 546.0,735.5 547.6,735.5 549.2,735.5 550.8,735.5 552.3,735.5 553.9,735.5 555.5,735.5 557.1,735.6 558.7,735.6 560.3,735.6 561.9,735.6 563.5,735.6 565.1,735.6 566.7,735.6 568.2,735.6 569.8,735.6 571.4,735.7 573.0,735.7 574.6,735.7 576.2,735.7 577.8,735.7 579.4,735.7 581.0,735.7 582.6,735.7 584.1,735.7 585.7,735.8 587.3,735.8 588.9,735.8 590.5,735.8 592.1,735.8 593.7,735.8 595.3,735.8 596.9,735.9 598.5,735.9 600.0,735.9 601.6,735.9 603.2,735.9 603.2,735.9" stroke="#69d2d8"/><polyline points="67.4,729.0 69.0,734.7 70.6,740.6 72.2,746.6 73.8,752.9 75.4,759.3 76.9,765.9 78.5,772.7 80.1,779.6 81.7,787.5 83.3,795.5 84.9,803.8 86.5,812.5 88.1,820.9 89.7,828.5 91.3,836.1 92.8,843.9 94.4,849.9 96.0,852.4 97.6,850.1 99.2,844.4 100.8,836.7 102.4,828.5 104.0,820.9 105.6,812.5 107.2,803.4 108.7,794.4 110.3,786.0 111.9,777.9 113.5,769.9 115.1,762.1 116.7,754.5 118.3,747.1 119.9,739.9 121.5,733.0 123.1,726.4 124.6,720.1 126.2,714.0 127.8,708.2 129.4,702.6 131.0,697.1 132.6,691.8 134.2,686.6 135.8,681.6 137.4,676.7 139.0,672.2 140.5,667.9 142.1,663.8 143.7,659.9 145.3,656.2 146.9,652.7 148.5,649.5 150.1,646.6 151.7,643.9 153.3,641.4 154.9,639.0 156.4,636.8 158.0,634.9 159.6,633.3 161.2,631.9 162.8,630.5 164.4,629.3 166.0,628.1 167.6,627.2 169.2,626.6 170.8,626.4 172.3,626.4 173.9,626.5 175.5,626.6 177.1,626.8 178.7,626.9 180.3,627.1 181.9,627.3 183.5,627.5 185.1,627.7 186.7,628.1 188.2,628.6 189.8,629.1 191.4,629.6 193.0,630.1 194.6,630.5 196.2,630.9 197.8,631.1 199.4,631.2 201.0,631.2 202.6,631.1 204.1,630.9 205.7,630.7 207.3,630.5 208.9,630.2 210.5,630.0 212.1,629.7 213.7,629.4 215.3,629.1 216.9,628.7 218.5,628.2 220.0,627.6 221.6,627.0 223.2,626.3 224.8,625.7 226.4,625.1 228.0,624.7 229.6,624.4 231.2,624.3 232.8,624.3 234.4,624.5 235.9,624.8 237.5,625.1 239.1,625.6 240.7,626.0 242.3,626.5 243.9,627.0 245.5,627.5 247.1,628.0 248.7,628.5 250.3,629.1 251.8,629.8 253.4,630.5 255.0,631.3 256.6,632.0 258.2,632.8 259.8,633.5 261.4,634.2 263.0,634.9 264.6,635.5 266.2,636.0 267.7,636.4 269.3,636.9 270.9,637.3 272.5,637.7 274.1,638.1 275.7,638.3 277.3,638.6 278.9,638.8 280.5,639.0 282.1,639.2 283.6,639.4 285.2,639.5 286.8,639.6 288.4,639.8 290.0,639.9 291.6,639.9 293.2,640.0 294.8,640.1 296.4,640.1 298.0,640.2 299.5,640.3 301.1,640.4 302.7,640.5 304.3,640.6 305.9,640.8 307.5,640.9 309.1,641.1 310.7,641.3 312.3,641.4 313.9,641.6 315.4,641.8 317.0,642.0 318.6,642.1 320.2,642.3 321.8,642.4 323.4,642.6 325.0,642.8 326.6,643.0 328.2,643.2 329.8,643.4 331.3,643.5 332.9,643.6 334.5,643.6 336.1,643.5 337.7,643.3 339.3,643.1 340.9,642.8 342.5,642.4 344.1,641.9 345.7,641.4 347.2,640.9 348.8,640.2 350.4,639.4 352.0,638.5 356.8,634.7 360.3,630.5 363.8,624.5 367.3,616.5 370.8,605.9 374.3,591.4 377.8,572.1 381.3,547.2 384.8,516.1 388.3,478.6 391.8,435.2 395.3,387.5 398.8,338.8 402.3,293.6 405.8,258.0 409.2,240.9 412.7,253.4 416.2,282.9 419.7,324.1 423.2,372.4 426.7,423.8 430.2,474.9 433.7,523.1 437.2,566.6 440.7,604.2 444.2,635.6 447.7,661.1 451.2,681.0 454.7,696.2 458.2,707.6 461.7,715.8 465.2,721.6 468.7,725.6 472.2,728.3 475.7,730.1 479.2,731.2 480.8,731.5 482.4,731.8 484.0,732.0 485.6,732.1 487.2,732.2 488.7,732.3 490.3,732.3 491.9,732.3 493.5,732.3 495.1,732.3 496.7,732.3 498.3,732.2 499.9,732.2 501.5,732.1 503.1,732.1 504.6,732.1 506.2,732.1 507.8,732.1 509.4,732.1 511.0,732.2 512.6,732.2 514.2,732.3 515.8,732.3 517.4,732.4 519.0,732.5 520.5,732.6 522.1,732.7 523.7,732.8 525.3,733.0 526.9,733.1 528.5,733.2 530.1,733.3 531.7,733.4 533.3,733.5 534.9,733.6 536.4,733.7 538.0,733.8 539.6,733.8 541.2,733.9 542.8,734.0 544.4,734.0 546.0,734.1 547.6,734.1 549.2,734.2 550.8,734.2 552.3,734.3 553.9,734.3 555.5,734.4 557.1,734.4 558.7,734.5 560.3,734.5 561.9,734.6 563.5,734.6 565.1,734.6 566.7,734.7 568.2,734.7 569.8,734.8 571.4,734.8 573.0,734.9 574.6,734.9 576.2,735.0 577.8,735.0 579.4,735.1 581.0,735.1 582.6,735.1 584.1,735.2 585.7,735.2 587.3,735.3 588.9,735.3 590.5,735.4 592.1,735.5 593.7,735.5 595.3,735.6 596.9,735.6 598.5,735.7 600.0,735.8 601.6,735.8 603.2,735.9 603.2,735.9" stroke="#b1e6ec"/><polyline points="67.4,693.4 69.0,700.0 70.6,706.7 72.2,713.6 73.8,720.7 75.4,728.0 76.9,735.4 78.5,743.1 80.1,750.9 81.7,758.8 83.3,766.8 84.9,775.1 86.5,783.8 88.1,792.2 89.7,799.7 91.3,807.4 92.8,815.2 94.4,821.2 96.0,823.7 97.6,821.4 99.2,815.7 100.8,808.0 102.4,799.8 104.0,792.2 105.6,783.8 107.2,774.7 108.7,765.7 110.3,757.3 111.9,749.1 113.5,741.1 115.1,733.4 116.7,725.8 118.3,718.4 119.9,711.2 121.5,704.3 123.1,697.7 124.6,691.4 126.2,685.3 127.8,679.5 129.4,673.8 131.0,668.4 132.6,663.1 134.2,657.9 135.8,652.9 137.4,648.0 139.0,643.4 140.5,639.2 142.1,635.1 143.7,631.2 145.3,627.5 146.9,624.0 148.5,620.8 150.1,617.9 151.7,615.2 153.3,612.7 154.9,610.3 156.4,608.1 158.0,606.2 159.6,604.6 161.2,603.2 162.8,601.8 164.4,600.5 166.0,599.4 167.6,598.5 169.2,597.9 170.8,597.7 172.3,597.7 173.9,597.8 175.5,597.9 177.1,598.0 178.7,598.2 180.3,598.4 181.9,598.6 183.5,598.8 185.1,599.0 186.7,599.4 188.2,599.9 189.8,600.4 191.4,600.9 193.0,601.4 194.6,601.8 196.2,602.2 197.8,602.4 199.4,602.5 201.0,602.5 202.6,602.4 204.1,602.2 205.7,602.0 207.3,601.8 208.9,601.5 210.5,601.3 212.1,601.0 213.7,600.7 215.3,600.4 216.9,600.0 218.5,599.5 220.0,598.9 221.6,598.3 223.2,597.6 224.8,597.0 226.4,596.4 228.0,596.0 229.6,595.7 231.2,595.6 232.8,595.6 234.4,595.8 235.9,596.1 237.5,596.4 239.1,596.8 240.7,597.3 242.3,597.8 243.9,598.3 245.5,598.8 247.1,599.3 248.7,599.8 250.3,600.4 251.8,601.1 253.4,601.8 255.0,602.5 256.6,603.3 258.2,604.1 259.8,604.8 261.4,605.5 263.0,606.2 264.6,606.8 266.2,607.3 267.7,607.7 269.3,608.2 270.9,608.6 272.5,609.0 274.1,609.4 275.7,609.7 277.3,610.1 278.9,610.4 280.5,610.7 282.1,611.0 283.6,611.3 285.2,611.6 286.8,611.8 288.4,612.0 290.0,612.2 291.6,612.4 293.2,612.6 294.8,612.8 296.4,612.9 298.0,613.1 299.5,613.3 301.1,613.5 302.7,613.7 304.3,614.0 305.9,614.2 307.5,614.5 309.1,614.7 310.7,615.0 312.3,615.3 313.9,615.6 315.4,615.8 317.0,616.1 318.6,616.4 320.2,616.6 321.8,616.9 323.4,617.1 325.0,617.4 326.6,617.7 328.2,617.9 329.8,618.1 331.3,618.3 332.9,618.4 334.5,618.4 336.1,618.3 337.7,618.0 339.3,617.6 340.9,617.0 342.5,616.4 344.1,615.5 345.7,614.6 347.2,613.6 348.8,612.4 350.4,610.9 352.0,609.2 354.2,606.4 357.7,600.8 361.2,593.2 364.7,583.3 368.2,571.1 371.7,556.5 375.2,538.8 378.7,518.3 382.2,495.5 385.7,471.5 389.2,447.7 392.7,425.9 396.2,409.0 399.7,401.0 403.2,410.7 406.7,433.6 410.2,465.1 413.7,501.5 417.2,539.4 420.7,576.2 424.2,609.8 427.7,639.2 431.2,663.8 434.7,683.5 438.2,698.9 441.7,710.4 445.2,718.7 448.7,724.6 452.2,728.6 455.7,731.3 459.2,733.0 462.7,734.0 466.2,734.6 469.7,734.9 473.2,735.0 476.7,734.9 480.2,734.6 480.8,734.6 482.4,734.5 484.0,734.3 485.6,734.2 487.2,734.1 488.7,733.9 490.3,733.8 491.9,733.7 493.5,733.6 495.1,733.6 496.7,733.5 498.3,733.5 499.9,733.5 501.5,733.6 503.1,733.6 504.6,733.7 506.2,733.8 507.8,734.0 509.4,734.1 511.0,734.2 512.6,734.4 514.2,734.6 515.8,734.7 517.4,734.8 519.0,735.0 520.5,735.1 522.1,735.2 523.7,735.3 525.3,735.4 526.9,735.5 528.5,735.5 530.1,735.6 531.7,735.6 533.3,735.7 534.9,735.7 536.4,735.7 538.0,735.7 539.6,735.8 541.2,735.8 542.8,735.8 544.4,735.8 546.0,735.8 547.6,735.8 549.2,735.8 550.8,735.8 552.3,735.8 553.9,735.8 555.5,735.8 557.1,735.8 558.7,735.8 560.3,735.8 561.9,735.8 563.5,735.8 565.1,735.8 566.7,735.8 568.2,735.8 569.8,735.8 571.4,735.9 573.0,735.9 574.6,735.9 576.2,735.9 577.8,735.9 579.4,735.9 581.0,735.9 582.6,735.9 584.1,735.9 585.7,735.9 587.3,735.9 588.9,735.9 590.5,735.9 592.1,735.9 593.7,735.9 595.3,735.9 596.9,735.9 598.5,735.9 600.0,735.9 601.6,735.9 603.2,735.9 603.2,735.9" stroke="#d2b1df"/><polyline points="67.4,689.2 69.0,695.7 70.6,702.5 72.2,709.4 73.8,716.4 75.4,723.7 76.9,731.2 78.5,738.8 80.1,746.6 81.7,754.5 83.3,762.5 84.9,770.9 86.5,779.5 88.1,787.9 89.7,795.5 91.3,803.1 92.8,810.9 94.4,817.0 96.0,819.4 97.6,817.2 99.2,811.4 100.8,803.7 102.4,795.6 104.0,788.0 105.6,779.5 107.2,770.5 108.7,761.5 110.3,753.1 111.9,744.9 113.5,736.9 115.1,729.1 116.7,721.6 118.3,714.2 119.9,707.0 121.5,700.0 123.1,693.4 124.6,687.1 126.2,681.0 127.8,675.2 129.4,669.6 131.0,664.2 132.6,658.9 134.2,653.7 135.8,648.6 137.4,643.8 139.0,639.2 140.5,634.9 142.1,630.9 143.7,627.0 145.3,623.3 146.9,619.8 148.5,616.6 150.1,613.7 151.7,611.0 153.3,608.4 154.9,606.0 156.4,603.8 158.0,601.9 159.6,600.4 161.2,599.0 162.8,597.6 164.4,596.3 166.0,595.2 167.6,594.3 169.2,593.7 170.8,593.4 172.3,593.5 173.9,593.5 175.5,593.7 177.1,593.8 178.7,594.0 180.3,594.1 181.9,594.3 183.5,594.5 185.1,594.8 186.7,595.1 188.2,595.6 189.8,596.1 191.4,596.6 193.0,597.1 194.6,597.6 196.2,597.9 197.8,598.1 199.4,598.2 201.0,598.2 202.6,598.1 204.1,598.0 205.7,597.8 207.3,597.5 208.9,597.3 210.5,597.0 212.1,596.7 213.7,596.4 215.3,596.1 216.9,595.7 218.5,595.2 220.0,594.6 221.6,594.0 223.2,593.3 224.8,592.7 226.4,592.2 228.0,591.7 229.6,591.4 231.2,591.3 232.8,591.4 234.4,591.6 235.9,591.8 237.5,592.2 239.1,592.6 240.7,593.1 242.3,593.5 243.9,594.1 245.5,594.6 247.1,595.0 248.7,595.6 250.3,596.2 251.8,596.8 253.4,597.5 255.0,598.3 256.6,599.0 258.2,599.8 259.8,600.6 261.4,601.3 263.0,601.9 264.6,602.5 266.2,603.0 267.7,603.5 269.3,603.9 270.9,604.3 272.5,604.7 274.1,605.1 275.7,605.5 277.3,605.9 278.9,606.2 280.5,606.5 282.1,606.8 283.6,607.1 285.2,607.4 286.8,607.7 288.4,607.9 290.0,608.1 291.6,608.3 293.2,608.5 294.8,608.7 296.4,608.9 298.0,609.1 299.5,609.3 301.1,609.5 302.7,609.8 304.3,610.0 305.9,610.3 307.5,610.5 309.1,610.8 310.7,611.1 312.3,611.4 313.9,611.7 315.4,612.0 317.0,612.3 318.6,612.6 320.2,612.8 321.8,613.1 323.4,613.3 325.0,613.6 326.6,613.9 328.2,614.2 329.8,614.4 331.3,614.6 332.9,614.7 334.5,614.6 336.1,614.5 337.7,614.2 339.3,613.8 340.9,613.2 342.5,612.4 344.1,611.5 345.7,610.5 347.2,609.4 348.8,608.1 350.4,606.5 352.0,604.6 356.9,596.9 360.4,589.2 363.9,579.1 367.4,566.4 370.9,551.2 374.4,533.0 377.9,511.8 381.4,488.2 384.9,463.3 388.4,438.6 391.9,416.1 395.4,398.6 398.9,390.3 402.4,400.4 405.9,424.0 409.4,456.5 412.9,494.0 416.4,533.1 419.9,571.0 423.4,605.7 426.9,636.0 430.4,661.3 433.9,681.6 437.4,697.3 440.9,709.1 444.4,717.6 447.9,723.6 451.4,727.7 454.9,730.4 458.4,732.2 461.9,733.3 465.4,734.0 468.9,734.4 472.4,734.6 475.9,734.7 479.4,734.7 480.8,734.7 482.4,734.7 484.0,734.7 485.6,734.7 487.2,734.6 488.7,734.6 490.3,734.5 491.9,734.5 493.5,734.5 495.1,734.4 496.7,734.4 498.3,734.3 499.9,734.3 501.5,734.3 503.1,734.3 504.6,734.3 506.2,734.3 507.8,734.3 509.4,734.4 511.0,734.4 512.6,734.4 514.2,734.5 515.8,734.5 517.4,734.6 519.0,734.7 520.5,734.7 522.1,734.8 523.7,734.8 525.3,734.9 526.9,734.9 528.5,735.0 530.1,735.0 531.7,735.1 533.3,735.1 534.9,735.1 536.4,735.2 538.0,735.2 539.6,735.2 541.2,735.2 542.8,735.3 544.4,735.3 546.0,735.3 547.6,735.3 549.2,735.3 550.8,735.3 552.3,735.4 553.9,735.4 555.5,735.4 557.1,735.4 558.7,735.4 560.3,735.4 561.9,735.4 563.5,735.5 565.1,735.5 566.7,735.5 568.2,735.5 569.8,735.5 571.4,735.5 573.0,735.6 574.6,735.6 576.2,735.6 577.8,735.6 579.4,735.6 581.0,735.6 582.6,735.7 584.1,735.7 585.7,735.7 587.3,735.7 588.9,735.7 590.5,735.7 592.1,735.8 593.7,735.8 595.3,735.8 596.9,735.8 598.5,735.9 600.0,735.9 601.6,735.9 603.2,735.9 603.2,735.9" stroke="#be8ab1"/><polyline points="67.4,678.5 69.0,685.1 70.6,691.8 72.2,698.7 73.8,705.8 75.4,713.1 76.9,720.6 78.5,728.2 80.1,736.0 81.7,743.9 83.3,751.9 84.9,760.3 86.5,768.9 88.1,777.3 89.7,784.9 91.3,792.5 92.8,800.3 94.4,806.3 96.0,808.8 97.6,806.5 99.2,800.8 100.8,793.1 102.4,784.9 104.0,777.3 105.6,768.9 107.2,759.8 108.7,750.8 110.3,742.4 111.9,734.3 113.5,726.3 115.1,718.5 116.7,710.9 118.3,703.5 119.9,696.3 121.5,689.4 123.1,682.8 124.6,676.5 126.2,670.4 127.8,664.6 129.4,659.0 131.0,653.5 132.6,648.2 134.2,643.0 135.8,638.0 137.4,633.1 139.0,628.6 140.5,624.3 142.1,620.2 143.7,616.3 145.3,612.6 146.9,609.1 148.5,605.9 150.1,603.0 151.7,600.3 153.3,597.8 154.9,595.4 156.4,593.2 158.0,591.3 159.6,589.7 161.2,588.3 162.8,587.0 164.4,585.7 166.0,584.5 167.6,583.6 169.2,583.0 170.8,582.8 172.3,582.8 173.9,582.9 175.5,583.0 177.1,583.2 178.7,583.3 180.3,583.5 181.9,583.7 183.5,583.9 185.1,584.1 186.7,584.5 188.2,585.0 189.8,585.5 191.4,586.0 193.0,586.5 194.6,586.9 196.2,587.3 197.8,587.5 199.4,587.6 201.0,587.6 202.6,587.5 204.1,587.3 205.7,587.1 207.3,586.9 208.9,586.6 210.5,586.4 212.1,586.1 213.7,585.8 215.3,585.5 216.9,585.1 218.5,584.6 220.0,584.0 221.6,583.4 223.2,582.7 224.8,582.1 226.4,581.5 228.0,581.1 229.6,580.8 231.2,580.7 232.8,580.8 234.4,580.9 235.9,581.2 237.5,581.5 239.1,582.0 240.7,582.4 242.3,582.9 243.9,583.4 245.5,583.9 247.1,584.4 248.7,584.9 250.3,585.5 251.8,586.2 253.4,586.9 255.0,587.7 256.6,588.4 258.2,589.2 259.8,589.9 261.4,590.6 263.0,591.3 264.6,591.9 266.2,592.4 267.7,592.8 269.3,593.3 270.9,593.7 272.5,594.1 274.1,594.5 275.7,594.9 277.3,595.3 278.9,595.7 280.5,596.1 282.1,596.4 283.6,596.7 285.2,597.1 286.8,597.4 288.4,597.6 290.0,597.9 291.6,598.1 293.2,598.4 294.8,598.6 296.4,598.8 298.0,599.1 299.5,599.3 301.1,599.6 302.7,599.8 304.3,600.1 305.9,600.4 307.5,600.7 309.1,601.1 310.7,601.4 312.3,601.7 313.9,602.0 315.4,602.4 317.0,602.7 318.6,603.0 320.2,603.3 321.8,603.5 323.4,603.8 325.0,604.1 326.6,604.4 328.2,604.7 329.8,604.9 331.3,605.0 332.9,605.1 334.5,605.0 336.1,604.8 337.7,604.5 339.3,603.9 340.9,603.1 342.5,602.2 344.1,601.1 345.7,599.9 347.2,598.4 348.8,596.8 350.4,594.9 352.0,592.6 356.3,584.7 359.8,575.9 363.3,564.3 366.8,549.7 370.3,531.8 373.8,509.9 377.3,483.6 380.8,453.2 384.3,419.1 387.8,382.3 391.3,344.1 394.8,306.9 398.3,273.6 401.8,248.1 405.3,236.1 408.8,248.7 412.3,278.5 415.8,320.1 419.3,368.9 422.8,420.8 426.3,472.4 429.8,521.0 433.3,564.8 436.8,602.7 440.3,634.3 443.8,659.9 447.3,679.9 450.7,695.2 454.2,706.6 457.7,714.8 461.2,720.7 464.7,724.7 468.2,727.4 471.7,729.2 475.2,730.3 478.7,730.9 480.8,731.1 482.4,731.2 484.0,731.3 485.6,731.3 487.2,731.3 488.7,731.2 490.3,731.1 491.9,731.0 493.5,730.8 495.1,730.6 496.7,730.4 498.3,730.2 499.9,730.0 501.5,729.8 503.1,729.7 504.6,729.5 506.2,729.4 507.8,729.3 509.4,729.2 511.0,729.2 512.6,729.2 514.2,729.3 515.8,729.4 517.4,729.5 519.0,729.6 520.5,729.8 522.1,730.1 523.7,730.3 525.3,730.6 526.9,730.9 528.5,731.1 530.1,731.4 531.7,731.7 533.3,731.9 534.9,732.2 536.4,732.4 538.0,732.6 539.6,732.8 541.2,732.9 542.8,733.1 544.4,733.2 546.0,733.3 547.6,733.5 549.2,733.6 550.8,733.6 552.3,733.7 553.9,733.8 555.5,733.9 557.1,733.9 558.7,734.0 560.3,734.1 561.9,734.1 563.5,734.2 565.1,734.2 566.7,734.3 568.2,734.4 569.8,734.4 571.4,734.5 573.0,734.5 574.6,734.6 576.2,734.7 577.8,734.7 579.4,734.8 581.0,734.8 582.6,734.9 584.1,735.0 585.7,735.0 587.3,735.1 588.9,735.2 590.5,735.2 592.1,735.3 593.7,735.4 595.3,735.5 596.9,735.5 598.5,735.6 600.0,735.7 601.6,735.8 603.2,735.9 603.2,735.9" stroke="#f3e68a"/><polyline points="67.4,699.8 69.0,706.2 70.6,712.8 72.2,719.6 73.8,726.5 75.4,733.7 76.9,741.0 78.5,748.5 80.1,756.2 81.7,764.1 83.3,772.1 84.9,780.5 86.5,789.1 88.1,797.5 89.7,805.1 91.3,812.7 92.8,820.5 94.4,826.5 96.0,829.0 97.6,826.7 99.2,821.0 100.8,813.3 102.4,805.1 104.0,797.5 105.6,789.1 107.2,780.0 108.7,771.0 110.3,762.6 111.9,754.5 113.5,746.5 115.1,738.7 116.7,731.1 118.3,723.7 119.9,716.5 121.5,709.6 123.1,703.0 124.6,696.7 126.2,690.6 127.8,684.8 129.4,679.2 131.0,673.7 132.6,668.4 134.2,663.2 135.8,658.2 137.4,653.4 139.0,648.8 140.5,644.5 142.1,640.4 143.7,636.5 145.3,632.8 146.9,629.3 148.5,626.1 150.1,623.2 151.7,620.5 153.3,618.0 154.9,615.6 156.4,613.4 158.0,611.5 159.6,609.9 161.2,608.5 162.8,607.2 164.4,605.9 166.0,604.7 167.6,603.8 169.2,603.2 170.8,603.0 172.3,603.0 173.9,603.1 175.5,603.2 177.1,603.4 178.7,603.5 180.3,603.7 181.9,603.9 183.5,604.1 185.1,604.3 186.7,604.7 188.2,605.2 189.8,605.7 191.4,606.2 193.0,606.7 194.6,607.1 196.2,607.5 197.8,607.7 199.4,607.8 201.0,607.8 202.6,607.7 204.1,607.5 205.7,607.3 207.3,607.1 208.9,606.9 210.5,606.6 212.1,606.3 213.7,606.0 215.3,605.7 216.9,605.3 218.5,604.8 220.0,604.2 221.6,603.6 223.2,602.9 224.8,602.3 226.4,601.7 228.0,601.3 229.6,601.0 231.2,600.9 232.8,601.0 234.4,601.1 235.9,601.4 237.5,601.7 239.1,602.2 240.7,602.6 242.3,603.1 243.9,603.6 245.5,604.1 247.1,604.6 248.7,605.1 250.3,605.7 251.8,606.4 253.4,607.1 255.0,607.9 256.6,608.6 258.2,609.4 259.8,610.1 261.4,610.8 263.0,611.5 264.6,612.1 266.2,612.6 267.7,613.0 269.3,613.5 270.9,613.9 272.5,614.3 274.1,614.7 275.7,615.0 277.3,615.3 278.9,615.7 280.5,616.0 282.1,616.2 283.6,616.5 285.2,616.7 286.8,617.0 288.4,617.2 290.0,617.3 291.6,617.5 293.2,617.7 294.8,617.8 296.4,618.0 298.0,618.1 299.5,618.3 301.1,618.5 302.7,618.7 304.3,618.9 305.9,619.1 307.5,619.4 309.1,619.6 310.7,619.9 312.3,620.1 313.9,620.4 315.4,620.7 317.0,620.9 318.6,621.2 320.2,621.4 321.8,621.6 323.4,621.9 325.0,622.1 326.6,622.4 328.2,622.6 329.8,622.9 331.3,623.0 332.9,623.1 334.5,623.2 336.1,623.1 337.7,622.8 339.3,622.5 340.9,622.0 342.5,621.4 344.1,620.7 345.7,619.9 347.2,619.1 348.8,618.0 350.4,616.7 352.0,615.3 354.7,612.2 358.2,607.0 361.7,599.8 365.2,590.4 368.7,578.5 372.2,563.7 375.7,545.2 379.2,523.0 382.7,497.2 386.2,468.6 389.7,438.1 393.2,407.5 396.7,379.7 400.2,358.1 403.7,347.8 407.2,356.9 410.7,378.7 414.2,409.1 417.7,445.1 421.2,483.7 424.7,522.5 428.2,559.6 431.7,593.5 435.2,623.3 438.7,648.7 442.2,669.6 445.7,686.4 449.2,699.5 452.7,709.5 456.2,716.9 459.7,722.3 463.2,726.1 466.6,728.8 470.1,730.6 473.6,731.8 477.1,732.5 480.6,733.0 480.8,733.0 482.4,733.2 484.0,733.3 485.6,733.3 487.2,733.4 488.7,733.4 490.3,733.4 491.9,733.4 493.5,733.4 495.1,733.3 496.7,733.3 498.3,733.2 499.9,733.2 501.5,733.2 503.1,733.2 504.6,733.1 506.2,733.1 507.8,733.1 509.4,733.1 511.0,733.1 512.6,733.2 514.2,733.2 515.8,733.3 517.4,733.3 519.0,733.4 520.5,733.5 522.1,733.5 523.7,733.6 525.3,733.7 526.9,733.8 528.5,733.9 530.1,734.0 531.7,734.0 533.3,734.1 534.9,734.2 536.4,734.3 538.0,734.3 539.6,734.4 541.2,734.4 542.8,734.5 544.4,734.5 546.0,734.6 547.6,734.6 549.2,734.7 550.8,734.7 552.3,734.7 553.9,734.8 555.5,734.8 557.1,734.8 558.7,734.9 560.3,734.9 561.9,734.9 563.5,735.0 565.1,735.0 566.7,735.0 568.2,735.1 569.8,735.1 571.4,735.1 573.0,735.2 574.6,735.2 576.2,735.2 577.8,735.3 579.4,735.3 581.0,735.3 582.6,735.4 584.1,735.4 585.7,735.4 587.3,735.5 588.9,735.5 590.5,735.6 592.1,735.6 593.7,735.6 595.3,735.7 596.9,735.7 598.5,735.8 600.0,735.8 601.6,735.9 603.2,735.9 603.2,735.9" stroke="#c5d87d"/><polyline points="67.4,714.4 69.0,720.5 70.6,726.7 72.2,733.1 73.8,739.7 75.4,746.5 76.9,753.5 78.5,760.6 80.1,767.9 81.7,775.8 83.3,783.8 84.9,792.2 86.5,800.8 88.1,809.2 89.7,816.8 91.3,824.4 92.8,832.2 94.4,838.2 96.0,840.7 97.6,838.4 99.2,832.7 100.8,825.0 102.4,816.8 104.0,809.2 105.6,800.8 107.2,791.7 108.7,782.7 110.3,774.3 111.9,766.2 113.5,758.2 115.1,750.4 116.7,742.8 118.3,735.4 119.9,728.2 121.5,721.3 123.1,714.7 124.6,708.4 126.2,702.3 127.8,696.5 129.4,690.9 131.0,685.4 132.6,680.1 134.2,674.9 135.8,669.9 137.4,665.0 139.0,660.5 140.5,656.2 142.1,652.1 143.7,648.2 145.3,644.5 146.9,641.0 148.5,637.8 150.1,634.9 151.7,632.2 153.3,629.7 154.9,627.3 156.4,625.1 158.0,623.2 159.6,621.6 161.2,620.2 162.8,618.9 164.4,617.6 166.0,616.4 167.6,615.5 169.2,614.9 170.8,614.7 172.3,614.7 173.9,614.8 175.5,614.9 177.1,615.1 178.7,615.2 180.3,615.4 181.9,615.6 183.5,615.8 185.1,616.0 186.7,616.4 188.2,616.9 189.8,617.4 191.4,617.9 193.0,618.4 194.6,618.8 196.2,619.2 197.8,619.4 199.4,619.5 201.0,619.5 202.6,619.4 204.1,619.2 205.7,619.0 207.3,618.8 208.9,618.5 210.5,618.3 212.1,618.0 213.7,617.7 215.3,617.4 216.9,617.0 218.5,616.5 220.0,615.9 221.6,615.3 223.2,614.6 224.8,614.0 226.4,613.4 228.0,613.0 229.6,612.7 231.2,612.6 232.8,612.7 234.4,612.8 235.9,613.1 237.5,613.4 239.1,613.9 240.7,614.3 242.3,614.8 243.9,615.3 245.5,615.8 247.1,616.3 248.7,616.8 250.3,617.4 251.8,618.1 253.4,618.8 255.0,619.6 256.6,620.3 258.2,621.1 259.8,621.8 261.4,622.5 263.0,623.2 264.6,623.8 266.2,624.3 267.7,624.7 269.3,625.2 270.9,625.6 272.5,626.0 274.1,626.4 275.7,626.7 277.3,627.0 278.9,627.2 280.5,627.5 282.1,627.7 283.6,627.9 285.2,628.1 286.8,628.3 288.4,628.5 290.0,628.6 291.6,628.7 293.2,628.8 294.8,628.9 296.4,629.1 298.0,629.2 299.5,629.3 301.1,629.4 302.7,629.6 304.3,629.8 305.9,629.9 307.5,630.1 309.1,630.4 310.7,630.6 312.3,630.8 313.9,631.0 315.4,631.2 317.0,631.4 318.6,631.7 320.2,631.9 321.8,632.1 323.4,632.3 325.0,632.5 326.6,632.7 328.2,633.0 329.8,633.2 331.3,633.4 332.9,633.5 334.5,633.5 336.1,633.5 337.7,633.3 339.3,633.1 340.9,632.7 342.5,632.3 344.1,631.9 345.7,631.3 347.2,630.8 348.8,630.1 350.4,629.2 352.0,628.3 356.6,624.5 360.1,620.2 363.6,614.4 367.1,606.8 370.6,597.1 374.1,584.6 377.6,568.9 381.1,549.8 384.6,527.7 388.1,503.5 391.6,478.5 395.1,455.1 398.6,436.5 402.1,427.6 405.6,435.3 409.1,453.7 412.6,479.4 416.1,509.5 419.6,541.5 423.1,573.4 426.6,603.5 430.1,630.6 433.6,654.1 437.1,673.8 440.6,689.7 444.1,702.2 447.6,711.8 451.1,718.9 454.6,724.1 458.1,727.7 461.6,730.3 465.1,731.9 468.6,733.0 472.1,733.7 475.6,734.0 479.1,734.1 480.8,734.0 482.4,734.0 484.0,733.9 485.6,733.8 487.2,733.6 488.7,733.5 490.3,733.3 491.9,733.1 493.5,732.9 495.1,732.7 496.7,732.5 498.3,732.4 499.9,732.2 501.5,732.1 503.1,732.1 504.6,732.0 506.2,732.0 507.8,732.0 509.4,732.1 511.0,732.2 512.6,732.3 514.2,732.5 515.8,732.7 517.4,732.9 519.0,733.1 520.5,733.3 522.1,733.5 523.7,733.7 525.3,733.9 526.9,734.1 528.5,734.3 530.1,734.4 531.7,734.6 533.3,734.7 534.9,734.8 536.4,734.9 538.0,735.0 539.6,735.1 541.2,735.1 542.8,735.2 544.4,735.2 546.0,735.3 547.6,735.3 549.2,735.3 550.8,735.3 552.3,735.4 553.9,735.4 555.5,735.4 557.1,735.4 558.7,735.4 560.3,735.4 561.9,735.5 563.5,735.5 565.1,735.5 566.7,735.5 568.2,735.5 569.8,735.5 571.4,735.6 573.0,735.6 574.6,735.6 576.2,735.6 577.8,735.6 579.4,735.6 581.0,735.7 582.6,735.7 584.1,735.7 585.7,735.7 587.3,735.7 588.9,735.7 590.5,735.8 592.1,735.8 593.7,735.8 595.3,735.8 596.9,735.8 598.5,735.9 600.0,735.9 601.6,735.9 603.2,735.9 603.2,735.9" stroke="#beecf3"/><polyline points="67.4,686.5 69.0,693.1 70.6,699.8 72.2,706.7 73.8,713.8 75.4,721.1 76.9,728.5 78.5,736.2 80.1,744.0 81.7,751.9 83.3,759.9 84.9,768.2 86.5,776.9 88.1,785.3 89.7,792.8 91.3,800.5 92.8,808.3 94.4,814.3 96.0,816.8 97.6,814.5 99.2,808.8 100.8,801.1 102.4,792.9 104.0,785.3 105.6,776.9 107.2,767.8 108.7,758.8 110.3,750.4 111.9,742.2 113.5,734.2 115.1,726.4 116.7,718.9 118.3,711.5 119.9,704.3 121.5,697.4 123.1,690.7 124.6,684.5 126.2,678.4 127.8,672.6 129.4,666.9 131.0,661.5 132.6,656.2 134.2,651.0 135.8,646.0 137.4,641.1 139.0,636.5 140.5,632.3 142.1,628.2 143.7,624.3 145.3,620.6 146.9,617.1 148.5,613.9 150.1,611.0 151.7,608.3 153.3,605.7 154.9,603.3 156.4,601.2 158.0,599.3 159.6,597.7 161.2,596.3 162.8,594.9 164.4,593.6 166.0,592.5 167.6,591.6 169.2,591.0 170.8,590.8 172.3,590.8 173.9,590.9 175.5,591.0 177.1,591.1 178.7,591.3 180.3,591.5 181.9,591.7 183.5,591.9 185.1,592.1 186.7,592.5 188.2,592.9 189.8,593.4 191.4,594.0 193.0,594.5 194.6,594.9 196.2,595.3 197.8,595.5 199.4,595.6 201.0,595.5 202.6,595.4 204.1,595.3 205.7,595.1 207.3,594.9 208.9,594.6 210.5,594.3 212.1,594.0 213.7,593.7 215.3,593.4 216.9,593.1 218.5,592.6 220.0,592.0 221.6,591.3 223.2,590.7 224.8,590.1 226.4,589.5 228.0,589.1 229.6,588.8 231.2,588.7 232.8,588.7 234.4,588.9 235.9,589.2 237.5,589.5 239.1,589.9 240.7,590.4 242.3,590.9 243.9,591.4 245.5,591.9 247.1,592.4 248.7,592.9 250.3,593.5 251.8,594.2 253.4,594.9 255.0,595.6 256.6,596.4 258.2,597.2 259.8,597.9 261.4,598.6 263.0,599.3 264.6,599.9 266.2,600.4 267.7,600.8 269.3,601.2 270.9,601.7 272.5,602.1 274.1,602.4 275.7,602.8 277.3,603.2 278.9,603.6 280.5,603.9 282.1,604.2 283.6,604.5 285.2,604.8 286.8,605.1 288.4,605.3 290.0,605.6 291.6,605.8 293.2,606.0 294.8,606.2 296.4,606.4 298.0,606.6 299.5,606.8 301.1,607.0 302.7,607.3 304.3,607.5 305.9,607.8 307.5,608.1 309.1,608.4 310.7,608.7 312.3,609.0 313.9,609.2 315.4,609.5 317.0,609.8 318.6,610.1 320.2,610.3 321.8,610.5 323.4,610.7 325.0,611.0 326.6,611.2 328.2,611.4 329.8,611.5 331.3,611.5 332.9,611.4 334.5,611.2 336.1,610.8 337.7,610.2 339.3,609.4 340.9,608.3 342.5,607.1 344.1,605.6 345.7,603.9 347.2,601.9 348.8,599.6 350.4,596.8 352.0,593.7 356.9,580.7 360.4,567.8 363.9,551.1 367.4,530.5 370.9,505.8 374.4,476.5 377.9,442.9 381.4,406.1 384.9,367.7 388.4,330.0 391.9,296.0 395.4,269.8 398.9,257.4 402.4,268.0 405.9,293.1 409.4,328.6 412.9,370.7 416.4,416.3 419.9,462.6 423.4,507.3 426.9,548.7 430.4,585.6 433.9,617.5 437.4,644.3 440.9,666.2 444.4,683.5 447.9,697.1 451.4,707.3 454.9,714.9 458.4,720.4 461.9,724.2 465.4,726.6 468.9,728.1 472.4,728.9 475.9,729.1 479.4,729.0 480.8,728.9 482.4,728.8 484.0,728.7 485.6,728.6 487.2,728.6 488.7,728.5 490.3,728.5 491.9,728.5 493.5,728.6 495.1,728.7 496.7,728.9 498.3,729.1 499.9,729.3 501.5,729.6 503.1,729.9 504.6,730.3 506.2,730.6 507.8,730.9 509.4,731.2 511.0,731.5 512.6,731.8 514.2,732.1 515.8,732.3 517.4,732.5 519.0,732.7 520.5,732.9 522.1,733.0 523.7,733.1 525.3,733.3 526.9,733.4 528.5,733.4 530.1,733.5 531.7,733.6 533.3,733.6 534.9,733.7 536.4,733.8 538.0,733.8 539.6,733.9 541.2,733.9 542.8,733.9 544.4,734.0 546.0,734.0 547.6,734.1 549.2,734.1 550.8,734.2 552.3,734.2 553.9,734.3 555.5,734.3 557.1,734.3 558.7,734.4 560.3,734.4 561.9,734.5 563.5,734.5 565.1,734.6 566.7,734.6 568.2,734.7 569.8,734.7 571.4,734.8 573.0,734.8 574.6,734.8 576.2,734.9 577.8,734.9 579.4,735.0 581.0,735.0 582.6,735.1 584.1,735.1 585.7,735.2 587.3,735.3 588.9,735.3 590.5,735.4 592.1,735.4 593.7,735.5 595.3,735.5 596.9,735.6 598.5,735.7 600.0,735.8 601.6,735.8 603.2,735.9 603.2,735.9" stroke="#a469be"/><polyline points="67.4,697.8 69.0,704.3 70.6,710.9 72.2,717.7 73.8,724.7 75.4,731.9 76.9,739.3 78.5,746.9 80.1,754.6 81.7,762.5 83.3,770.5 84.9,778.9 86.5,787.5 88.1,795.9 89.7,803.5 91.3,811.1 92.8,818.9 94.4,825.0 96.0,827.4 97.6,825.1 99.2,819.4 100.8,811.7 102.4,803.5 104.0,796.0 105.6,787.5 107.2,778.4 108.7,769.4 110.3,761.0 111.9,752.9 113.5,744.9 115.1,737.1 116.7,729.5 118.3,722.1 119.9,714.9 121.5,708.0 123.1,701.4 124.6,695.1 126.2,689.0 127.8,683.2 129.4,677.6 131.0,672.1 132.6,666.8 134.2,661.6 135.8,656.6 137.4,651.8 139.0,647.2 140.5,642.9 142.1,638.8 143.7,634.9 145.3,631.2 146.9,627.7 148.5,624.5 150.1,621.6 151.7,618.9 153.3,616.4 154.9,614.0 156.4,611.8 158.0,609.9 159.6,608.3 161.2,606.9 162.8,605.6 164.4,604.3 166.0,603.1 167.6,602.2 169.2,601.6 170.8,601.4 172.3,601.4 173.9,601.5 175.5,601.6 177.1,601.8 178.7,601.9 180.3,602.1 181.9,602.3 183.5,602.5 185.1,602.7 186.7,603.1 188.2,603.6 189.8,604.1 191.4,604.6 193.0,605.1 194.6,605.5 196.2,605.9 197.8,606.1 199.4,606.2 201.0,606.2 202.6,606.1 204.1,605.9 205.7,605.7 207.3,605.5 208.9,605.3 210.5,605.0 212.1,604.7 213.7,604.4 215.3,604.1 216.9,603.7 218.5,603.2 220.0,602.6 221.6,602.0 223.2,601.3 224.8,600.7 226.4,600.1 228.0,599.7 229.6,599.4 231.2,599.3 232.8,599.4 234.4,599.5 235.9,599.8 237.5,600.2 239.1,600.6 240.7,601.0 242.3,601.5 243.9,602.0 245.5,602.5 247.1,603.0 248.7,603.5 250.3,604.1 251.8,604.8 253.4,605.5 255.0,606.3 256.6,607.0 258.2,607.8 259.8,608.5 261.4,609.2 263.0,609.9 264.6,610.5 266.2,611.0 267.7,611.4 269.3,611.9 270.9,612.3 272.5,612.7 274.1,613.1 275.7,613.4 277.3,613.8 278.9,614.1 280.5,614.4 282.1,614.7 283.6,614.9 285.2,615.2 286.8,615.4 288.4,615.6 290.0,615.8 291.6,616.0 293.2,616.1 294.8,616.3 296.4,616.5 298.0,616.6 299.5,616.8 301.1,617.0 302.7,617.2 304.3,617.4 305.9,617.7 307.5,617.9 309.1,618.2 310.7,618.4 312.3,618.7 313.9,619.0 315.4,619.2 317.0,619.5 318.6,619.8 320.2,620.0 321.8,620.2 323.4,620.5 325.0,620.8 326.6,621.1 328.2,621.3 329.8,621.6 331.3,621.8 332.9,621.9 334.5,622.0 336.1,622.0 337.7,621.8 339.3,621.5 340.9,621.1 342.5,620.7 344.1,620.1 345.7,619.4 347.2,618.7 348.8,617.9 350.4,616.8 352.0,615.6 354.7,613.1 358.2,608.7 361.7,602.5 365.2,594.3 368.7,583.7 372.2,570.2 375.7,552.9 379.2,531.7 382.7,506.5 386.2,478.0 389.7,447.1 393.2,415.7 396.7,386.7 400.2,364.0 403.7,353.1 407.2,361.5 410.7,381.7 414.2,410.0 417.7,443.7 421.2,480.2 424.7,517.2 428.2,552.9 431.7,585.9 435.2,615.3 438.7,640.7 442.2,662.0 445.7,679.3 449.2,693.1 452.7,703.8 456.2,711.9 459.7,717.9 463.2,722.3 466.6,725.3 470.1,727.3 473.6,728.6 477.1,729.3 480.6,729.6 480.8,729.6 482.4,729.7 484.0,729.7 485.6,729.7 487.2,729.7 488.7,729.7 490.3,729.7 491.9,729.7 493.5,729.7 495.1,729.7 496.7,729.7 498.3,729.8 499.9,729.9 501.5,730.1 503.1,730.2 504.6,730.4 506.2,730.6 507.8,730.8 509.4,731.0 511.0,731.2 512.6,731.5 514.2,731.6 515.8,731.8 517.4,732.0 519.0,732.2 520.5,732.3 522.1,732.5 523.7,732.6 525.3,732.7 526.9,732.8 528.5,732.9 530.1,733.0 531.7,733.1 533.3,733.1 534.9,733.2 536.4,733.3 538.0,733.3 539.6,733.4 541.2,733.4 542.8,733.5 544.4,733.5 546.0,733.6 547.6,733.6 549.2,733.7 550.8,733.8 552.3,733.8 553.9,733.9 555.5,733.9 557.1,734.0 558.7,734.0 560.3,734.1 561.9,734.1 563.5,734.2 565.1,734.2 566.7,734.3 568.2,734.4 569.8,734.4 571.4,734.5 573.0,734.5 574.6,734.6 576.2,734.7 577.8,734.7 579.4,734.8 581.0,734.8 582.6,734.9 584.1,735.0 585.7,735.0 587.3,735.1 588.9,735.2 590.5,735.2 592.1,735.3 593.7,735.4 595.3,735.5 596.9,735.5 598.5,735.6 600.0,735.7 601.6,735.8 603.2,735.9 603.2,735.9" stroke="#9062b1"/><polyline points="67.4,690.2 69.0,696.8 70.6,703.5 72.2,710.4 73.8,717.5 75.4,724.8 76.9,732.3 78.5,739.9 80.1,747.7 81.7,755.6 83.3,763.6 84.9,771.9 86.5,780.6 88.1,789.0 89.7,796.6 91.3,804.2 92.8,812.0 94.4,818.0 96.0,820.5 97.6,818.2 99.2,812.5 100.8,804.8 102.4,796.6 104.0,789.0 105.6,780.6 107.2,771.5 108.7,762.5 110.3,754.1 111.9,746.0 113.5,738.0 115.1,730.2 116.7,722.6 118.3,715.2 119.9,708.0 121.5,701.1 123.1,694.5 124.6,688.2 126.2,682.1 127.8,676.3 129.4,670.7 131.0,665.2 132.6,659.9 134.2,654.7 135.8,649.7 137.4,644.8 139.0,640.3 140.5,636.0 142.1,631.9 143.7,628.0 145.3,624.3 146.9,620.8 148.5,617.6 150.1,614.7 151.7,612.0 153.3,609.5 154.9,607.1 156.4,604.9 158.0,603.0 159.6,601.4 161.2,600.0 162.8,598.6 164.4,597.4 166.0,596.2 167.6,595.3 169.2,594.7 170.8,594.5 172.3,594.5 173.9,594.6 175.5,594.7 177.1,594.9 178.7,595.0 180.3,595.2 181.9,595.4 183.5,595.6 185.1,595.8 186.7,596.2 188.2,596.7 189.8,597.2 191.4,597.7 193.0,598.2 194.6,598.6 196.2,599.0 197.8,599.2 199.4,599.3 201.0,599.3 202.6,599.2 204.1,599.0 205.7,598.8 207.3,598.6 208.9,598.3 210.5,598.1 212.1,597.8 213.7,597.5 215.3,597.2 216.9,596.8 218.5,596.3 220.0,595.7 221.6,595.1 223.2,594.4 224.8,593.8 226.4,593.2 228.0,592.8 229.6,592.5 231.2,592.4 232.8,592.4 234.4,592.6 235.9,592.9 237.5,593.2 239.1,593.7 240.7,594.1 242.3,594.6 243.9,595.1 245.5,595.6 247.1,596.1 248.7,596.6 250.3,597.2 251.8,597.9 253.4,598.6 255.0,599.4 256.6,600.1 258.2,600.9 259.8,601.6 261.4,602.3 263.0,603.0 264.6,603.6 266.2,604.1 267.7,604.5 269.3,605.0 270.9,605.4 272.5,605.8 274.1,606.2 275.7,606.5 277.3,606.9 278.9,607.2 280.5,607.6 282.1,607.9 283.6,608.2 285.2,608.4 286.8,608.7 288.4,608.9 290.0,609.1 291.6,609.3 293.2,609.5 294.8,609.7 296.4,609.9 298.0,610.1 299.5,610.3 301.1,610.5 302.7,610.7 304.3,611.0 305.9,611.3 307.5,611.5 309.1,611.8 310.7,612.1 312.3,612.4 313.9,612.7 315.4,613.0 317.0,613.3 318.6,613.5 320.2,613.8 321.8,614.1 323.4,614.3 325.0,614.6 326.6,614.9 328.2,615.2 329.8,615.4 331.3,615.6 332.9,615.7 334.5,615.7 336.1,615.6 337.7,615.4 339.3,615.0 340.9,614.4 342.5,613.8 344.1,613.0 345.7,612.1 347.2,611.1 348.8,609.9 350.4,608.4 352.0,606.8 355.8,601.6 359.3,595.1 362.8,586.4 366.3,575.2 369.8,561.5 373.3,544.5 376.8,524.1 380.3,500.3 383.8,473.9 387.3,446.1 390.8,418.2 394.3,392.8 397.8,373.1 401.3,363.8 404.8,372.0 408.3,391.5 411.8,419.1 415.3,451.9 418.8,487.4 422.3,523.4 425.8,558.2 429.3,590.4 432.8,619.1 436.3,644.0 439.8,664.9 443.3,681.9 446.8,695.5 450.3,706.0 453.8,714.1 457.3,720.0 460.8,724.4 464.3,727.4 467.8,729.5 471.3,730.8 474.8,731.5 478.3,731.8 480.8,731.9 482.4,731.8 484.0,731.7 485.6,731.5 487.2,731.3 488.7,731.1 490.3,730.9 491.9,730.7 493.5,730.5 495.1,730.4 496.7,730.2 498.3,730.1 499.9,730.0 501.5,730.0 503.1,730.1 504.6,730.2 506.2,730.3 507.8,730.5 509.4,730.7 511.0,730.9 512.6,731.2 514.2,731.5 515.8,731.7 517.4,732.0 519.0,732.3 520.5,732.6 522.1,732.9 523.7,733.1 525.3,733.3 526.9,733.5 528.5,733.7 530.1,733.9 531.7,734.0 533.3,734.1 534.9,734.2 536.4,734.3 538.0,734.4 539.6,734.5 541.2,734.5 542.8,734.6 544.4,734.6 546.0,734.7 547.6,734.7 549.2,734.7 550.8,734.8 552.3,734.8 553.9,734.8 555.5,734.9 557.1,734.9 558.7,734.9 560.3,734.9 561.9,735.0 563.5,735.0 565.1,735.0 566.7,735.1 568.2,735.1 569.8,735.1 571.4,735.2 573.0,735.2 574.6,735.2 576.2,735.3 577.8,735.3 579.4,735.3 581.0,735.4 582.6,735.4 584.1,735.4 585.7,735.5 587.3,735.5 588.9,735.5 590.5,735.6 592.1,735.6 593.7,735.6 595.3,735.7 596.9,735.7 598.5,735.8 600.0,735.8 601.6,735.9 603.2,735.9 603.2,735.9" stroke="#d24f97"/><polyline points="67.4,694.5 69.0,701.0 70.6,707.8 72.2,714.7 73.8,721.8 75.4,729.0 76.9,736.5 78.5,744.2 80.1,752.0 81.7,759.9 83.3,767.8 84.9,776.2 86.5,784.9 88.1,793.3 89.7,800.8 91.3,808.4 92.8,816.2 94.4,822.3 96.0,824.7 97.6,822.5 99.2,816.8 100.8,809.1 102.4,800.9 104.0,793.3 105.6,784.8 107.2,775.8 108.7,766.8 110.3,758.4 111.9,750.2 113.5,742.2 115.1,734.4 116.7,726.9 118.3,719.5 119.9,712.3 121.5,705.3 123.1,698.7 124.6,692.4 126.2,686.4 127.8,680.5 129.4,674.9 131.0,669.5 132.6,664.2 134.2,659.0 135.8,653.9 137.4,649.1 139.0,644.5 140.5,640.2 142.1,636.2 143.7,632.3 145.3,628.6 146.9,625.1 148.5,621.9 150.1,619.0 151.7,616.3 153.3,613.7 154.9,611.3 156.4,609.1 158.0,607.2 159.6,605.7 161.2,604.3 162.8,602.9 164.4,601.6 166.0,600.5 167.6,599.6 169.2,599.0 170.8,598.8 172.3,598.8 173.9,598.9 175.5,599.0 177.1,599.1 178.7,599.3 180.3,599.4 181.9,599.6 183.5,599.8 185.1,600.1 186.7,600.5 188.2,600.9 189.8,601.4 191.4,601.9 193.0,602.4 194.6,602.9 196.2,603.2 197.8,603.5 199.4,603.6 201.0,603.5 202.6,603.4 204.1,603.3 205.7,603.1 207.3,602.9 208.9,602.6 210.5,602.3 212.1,602.0 213.7,601.7 215.3,601.4 216.9,601.1 218.5,600.6 220.0,600.0 221.6,599.3 223.2,598.7 224.8,598.0 226.4,597.5 228.0,597.0 229.6,596.7 231.2,596.6 232.8,596.7 234.4,596.9 235.9,597.1 237.5,597.5 239.1,597.9 240.7,598.4 242.3,598.9 243.9,599.4 245.5,599.9 247.1,600.4 248.7,600.9 250.3,601.5 251.8,602.1 253.4,602.9 255.0,603.6 256.6,604.4 258.2,605.1 259.8,605.9 261.4,606.6 263.0,607.2 264.6,607.8 266.2,608.3 267.7,608.8 269.3,609.2 270.9,609.6 272.5,610.0 274.1,610.4 275.7,610.8 277.3,611.1 278.9,611.5 280.5,611.8 282.1,612.1 283.6,612.3 285.2,612.6 286.8,612.8 288.4,613.0 290.0,613.2 291.6,613.4 293.2,613.6 294.8,613.8 296.4,613.9 298.0,614.1 299.5,614.3 301.1,614.5 302.7,614.7 304.3,614.9 305.9,615.2 307.5,615.4 309.1,615.7 310.7,616.0 312.3,616.3 313.9,616.5 315.4,616.8 317.0,617.1 318.6,617.3 320.2,617.6 321.8,617.8 323.4,618.1 325.0,618.3 326.6,618.6 328.2,618.8 329.8,619.1 331.3,619.2 332.9,619.3 334.5,619.3 336.1,619.2 337.7,618.9 339.3,618.4 340.9,617.9 342.5,617.2 344.1,616.4 345.7,615.4 347.2,614.3 348.8,613.0 350.4,611.5 352.0,609.7 355.8,604.1 359.3,597.1 362.8,587.6 366.3,575.4 369.8,560.3 373.3,541.7 376.8,519.3 380.3,493.1 383.8,464.1 387.3,433.3 390.8,402.6 394.3,374.6 397.8,352.8 401.3,342.5 404.8,351.1 408.3,371.8 411.8,400.9 415.3,435.6 418.8,473.0 422.3,511.1 425.8,547.7 429.3,581.6 432.8,611.9 436.3,637.9 439.8,659.7 443.3,677.4 446.8,691.6 450.3,702.6 453.8,710.9 457.3,717.2 460.8,721.7 464.3,724.9 467.8,727.2 471.3,728.7 474.8,729.6 478.3,730.2 480.8,730.4 482.4,730.4 484.0,730.5 485.6,730.4 487.2,730.4 488.7,730.3 490.3,730.2 491.9,730.1 493.5,730.0 495.1,729.9 496.7,729.8 498.3,729.7 499.9,729.6 501.5,729.6 503.1,729.6 504.6,729.6 506.2,729.6 507.8,729.7 509.4,729.8 511.0,729.9 512.6,730.1 514.2,730.3 515.8,730.4 517.4,730.6 519.0,730.8 520.5,731.0 522.1,731.2 523.7,731.4 525.3,731.6 526.9,731.8 528.5,732.0 530.1,732.2 531.7,732.3 533.3,732.4 534.9,732.6 536.4,732.7 538.0,732.8 539.6,732.9 541.2,733.0 542.8,733.1 544.4,733.2 546.0,733.2 547.6,733.3 549.2,733.4 550.8,733.4 552.3,733.5 553.9,733.6 555.5,733.6 557.1,733.7 558.7,733.8 560.3,733.8 561.9,733.9 563.5,733.9 565.1,734.0 566.7,734.1 568.2,734.1 569.8,734.2 571.4,734.3 573.0,734.3 574.6,734.4 576.2,734.5 577.8,734.5 579.4,734.6 581.0,734.7 582.6,734.8 584.1,734.8 585.7,734.9 587.3,735.0 588.9,735.1 590.5,735.1 592.1,735.2 593.7,735.3 595.3,735.4 596.9,735.5 598.5,735.6 600.0,735.7 601.6,735.8 603.2,735.9 603.2,735.9" stroke="#be4870"/><polyline points="67.4,688.1 69.0,694.6 70.6,701.4 72.2,708.3 73.8,715.4 75.4,722.7 76.9,730.1 78.5,737.8 80.1,745.6 81.7,753.5 83.3,761.5 84.9,769.8 86.5,778.5 88.1,786.9 89.7,794.4 91.3,802.1 92.8,809.9 94.4,815.9 96.0,818.4 97.6,816.1 99.2,810.4 100.8,802.7 102.4,794.5 104.0,786.9 105.6,778.5 107.2,769.4 108.7,760.4 110.3,752.0 111.9,743.8 113.5,735.8 115.1,728.0 116.7,720.5 118.3,713.1 119.9,705.9 121.5,699.0 123.1,692.3 124.6,686.0 126.2,680.0 127.8,674.2 129.4,668.5 131.0,663.1 132.6,657.8 134.2,652.6 135.8,647.6 137.4,642.7 139.0,638.1 140.5,633.9 142.1,629.8 143.7,625.9 145.3,622.2 146.9,618.7 148.5,615.5 150.1,612.6 151.7,609.9 153.3,607.3 154.9,604.9 156.4,602.8 158.0,600.9 159.6,599.3 161.2,597.9 162.8,596.5 164.4,595.2 166.0,594.1 167.6,593.2 169.2,592.6 170.8,592.4 172.3,592.4 173.9,592.5 175.5,592.6 177.1,592.7 178.7,592.9 180.3,593.1 181.9,593.3 183.5,593.4 185.1,593.7 186.7,594.1 188.2,594.5 189.8,595.0 191.4,595.6 193.0,596.0 194.6,596.5 196.2,596.8 197.8,597.1 199.4,597.2 201.0,597.1 202.6,597.0 204.1,596.9 205.7,596.7 207.3,596.5 208.9,596.2 210.5,595.9 212.1,595.6 213.7,595.3 215.3,595.0 216.9,594.7 218.5,594.2 220.0,593.6 221.6,592.9 223.2,592.3 224.8,591.7 226.4,591.1 228.0,590.7 229.6,590.4 231.2,590.3 232.8,590.3 234.4,590.5 235.9,590.8 237.5,591.1 239.1,591.5 240.7,592.0 242.3,592.5 243.9,593.0 245.5,593.5 247.1,594.0 248.7,594.5 250.3,595.1 251.8,595.8 253.4,596.5 255.0,597.2 256.6,598.0 258.2,598.7 259.8,599.5 261.4,600.2 263.0,600.9 264.6,601.4 266.2,602.0 267.7,602.4 269.3,602.8 270.9,603.3 272.5,603.7 274.1,604.0 275.7,604.4 277.3,604.8 278.9,605.1 280.5,605.5 282.1,605.8 283.6,606.1 285.2,606.4 286.8,606.6 288.4,606.9 290.0,607.1 291.6,607.3 293.2,607.5 294.8,607.7 296.4,607.9 298.0,608.1 299.5,608.3 301.1,608.5 302.7,608.8 304.3,609.0 305.9,609.3 307.5,609.6 309.1,609.8 310.7,610.1 312.3,610.4 313.9,610.7 315.4,611.0 317.0,611.3 318.6,611.6 320.2,611.8 321.8,612.1 323.4,612.3 325.0,612.6 326.6,612.8 328.2,613.0 329.8,613.2 331.3,613.3 332.9,613.3 334.5,613.2 336.1,613.0 337.7,612.5 339.3,611.9 340.9,611.0 342.5,610.0 344.1,608.8 345.7,607.4 347.2,605.8 348.8,603.9 350.4,601.7 352.0,599.0 355.5,591.8 359.0,582.0 362.5,569.0 366.0,552.6 369.5,532.5 373.0,508.4 376.5,480.3 380.0,449.0 383.5,415.8 387.0,382.9 390.5,352.9 394.0,329.6 397.5,318.6 401.0,327.2 404.5,347.9 408.0,377.1 411.5,412.1 415.0,450.2 418.5,489.3 422.0,527.4 425.5,563.1 429.0,595.5 432.5,623.8 436.0,648.0 439.5,668.1 443.0,684.4 446.5,697.4 450.0,707.4 453.5,715.1 457.0,720.7 460.4,724.9 463.9,727.8 467.4,729.8 470.9,731.1 474.4,731.9 477.9,732.3 480.8,732.4 482.4,732.4 484.0,732.3 485.6,732.3 487.2,732.1 488.7,732.0 490.3,731.9 491.9,731.7 493.5,731.6 495.1,731.5 496.7,731.4 498.3,731.3 499.9,731.2 501.5,731.2 503.1,731.3 504.6,731.4 506.2,731.5 507.8,731.6 509.4,731.8 511.0,731.9 512.6,732.1 514.2,732.3 515.8,732.6 517.4,732.8 519.0,733.0 520.5,733.2 522.1,733.4 523.7,733.6 525.3,733.8 526.9,733.9 528.5,734.0 530.1,734.2 531.7,734.3 533.3,734.4 534.9,734.5 536.4,734.5 538.0,734.6 539.6,734.6 541.2,734.7 542.8,734.7 544.4,734.8 546.0,734.8 547.6,734.8 549.2,734.9 550.8,734.9 552.3,734.9 553.9,735.0 555.5,735.0 557.1,735.0 558.7,735.0 560.3,735.1 561.9,735.1 563.5,735.1 565.1,735.1 566.7,735.2 568.2,735.2 569.8,735.2 571.4,735.2 573.0,735.3 574.6,735.3 576.2,735.3 577.8,735.4 579.4,735.4 581.0,735.4 582.6,735.4 584.1,735.5 585.7,735.5 587.3,735.5 588.9,735.6 590.5,735.6 592.1,735.6 593.7,735.7 595.3,735.7 596.9,735.7 598.5,735.8 600.0,735.8 601.6,735.9 603.2,735.9 603.2,735.9" stroke="#e65c69"/><polyline points="67.4,701.1 69.0,707.5 70.6,714.1 72.2,720.8 73.8,727.7 75.4,734.9 76.9,742.2 78.5,749.6 80.1,757.3 81.7,765.2 83.3,773.2 84.9,781.5 86.5,790.2 88.1,798.6 89.7,806.1 91.3,813.8 92.8,821.6 94.4,827.6 96.0,830.0 97.6,827.8 99.2,822.1 100.8,814.4 102.4,806.2 104.0,798.6 105.6,790.2 107.2,781.1 108.7,772.1 110.3,763.7 111.9,755.5 113.5,747.5 115.1,739.7 116.7,732.2 118.3,724.8 119.9,717.6 121.5,710.7 123.1,704.0 124.6,697.7 126.2,691.7 127.8,685.8 129.4,680.2 131.0,674.8 132.6,669.5 134.2,664.3 135.8,659.3 137.4,654.4 139.0,649.8 140.5,645.6 142.1,641.5 143.7,637.6 145.3,633.9 146.9,630.4 148.5,627.2 150.1,624.3 151.7,621.6 153.3,619.0 154.9,616.6 156.4,614.5 158.0,612.6 159.6,611.0 161.2,609.6 162.8,608.2 164.4,606.9 166.0,605.8 167.6,604.9 169.2,604.3 170.8,604.1 172.3,604.1 173.9,604.2 175.5,604.3 177.1,604.4 178.7,604.6 180.3,604.8 181.9,605.0 183.5,605.1 185.1,605.4 186.7,605.8 188.2,606.2 189.8,606.7 191.4,607.2 193.0,607.7 194.6,608.2 196.2,608.5 197.8,608.8 199.4,608.9 201.0,608.8 202.6,608.7 204.1,608.6 205.7,608.4 207.3,608.2 208.9,607.9 210.5,607.6 212.1,607.3 213.7,607.0 215.3,606.7 216.9,606.4 218.5,605.9 220.0,605.3 221.6,604.6 223.2,604.0 224.8,603.4 226.4,602.8 228.0,602.4 229.6,602.1 231.2,602.0 232.8,602.0 234.4,602.2 235.9,602.5 237.5,602.8 239.1,603.2 240.7,603.7 242.3,604.2 243.9,604.7 245.5,605.2 247.1,605.7 248.7,606.2 250.3,606.8 251.8,607.5 253.4,608.2 255.0,608.9 256.6,609.7 258.2,610.4 259.8,611.2 261.4,611.9 263.0,612.6 264.6,613.1 266.2,613.7 267.7,614.1 269.3,614.5 270.9,615.0 272.5,615.4 274.1,615.7 275.7,616.1 277.3,616.4 278.9,616.7 280.5,617.0 282.1,617.3 283.6,617.5 285.2,617.8 286.8,618.0 288.4,618.2 290.0,618.4 291.6,618.5 293.2,618.7 294.8,618.8 296.4,619.0 298.0,619.1 299.5,619.3 301.1,619.5 302.7,619.7 304.3,619.9 305.9,620.1 307.5,620.3 309.1,620.6 310.7,620.8 312.3,621.1 313.9,621.4 315.4,621.6 317.0,621.9 318.6,622.1 320.2,622.4 321.8,622.6 323.4,622.8 325.0,623.1 326.6,623.4 328.2,623.7 329.8,623.9 331.3,624.1 332.9,624.3 334.5,624.3 336.1,624.3 337.7,624.2 339.3,623.9 340.9,623.6 342.5,623.1 344.1,622.6 345.7,622.1 347.2,621.4 348.8,620.7 350.4,619.8 352.0,618.7 355.5,615.8 359.0,611.8 362.5,606.3 366.0,599.0 369.5,589.8 373.0,578.0 376.5,563.0 380.0,544.6 383.5,522.9 387.0,498.3 390.5,471.6 394.0,444.4 397.5,419.4 401.0,399.7 404.5,390.3 408.0,398.5 411.5,417.8 415.0,444.9 418.5,477.0 422.0,511.4 425.5,546.0 429.0,579.0 432.5,609.3 436.0,635.9 439.5,658.6 443.0,677.3 446.5,692.4 450.0,704.1 453.5,713.1 457.0,719.7 460.4,724.6 463.9,728.0 467.4,730.4 470.9,732.0 474.4,733.0 477.9,733.7 480.8,734.0 482.4,734.1 484.0,734.2 485.6,734.3 487.2,734.3 488.7,734.4 490.3,734.4 491.9,734.4 493.5,734.4 495.1,734.3 496.7,734.3 498.3,734.3 499.9,734.3 501.5,734.3 503.1,734.3 504.6,734.3 506.2,734.3 507.8,734.3 509.4,734.4 511.0,734.4 512.6,734.4 514.2,734.5 515.8,734.5 517.4,734.6 519.0,734.6 520.5,734.7 522.1,734.8 523.7,734.8 525.3,734.9 526.9,734.9 528.5,735.0 530.1,735.0 531.7,735.1 533.3,735.1 534.9,735.1 536.4,735.2 538.0,735.2 539.6,735.2 541.2,735.2 542.8,735.3 544.4,735.3 546.0,735.3 547.6,735.3 549.2,735.3 550.8,735.3 552.3,735.4 553.9,735.4 555.5,735.4 557.1,735.4 558.7,735.4 560.3,735.4 561.9,735.4 563.5,735.5 565.1,735.5 566.7,735.5 568.2,735.5 569.8,735.5 571.4,735.5 573.0,735.6 574.6,735.6 576.2,735.6 577.8,735.6 579.4,735.6 581.0,735.6 582.6,735.7 584.1,735.7 585.7,735.7 587.3,735.7 588.9,735.7 590.5,735.7 592.1,735.8 593.7,735.8 595.3,735.8 596.9,735.8 598.5,735.9 600.0,735.9 601.6,735.9 603.2,735.9 603.2,735.9" stroke="#b18acb"/></g>
<polyline fill="none" stroke="#a85a88" stroke-width="1.3" points="67.4,729.9 69.0,730.1 70.6,730.2 72.2,730.4 73.8,730.5 75.4,730.6 76.9,730.8 78.5,730.9 80.1,731.0 81.7,731.1 83.3,731.2 84.9,731.2 86.5,731.3 88.1,731.4 89.7,731.4 91.3,731.5 92.8,731.6 94.4,731.6 96.0,731.7 97.6,731.7 99.2,731.7 100.8,731.7 102.4,731.7 104.0,731.6 105.6,731.6 107.2,731.5 108.7,731.4 110.3,731.3 111.9,731.3 113.5,731.2 115.1,731.1 116.7,731.0 118.3,730.9 119.9,730.8 121.5,730.7 123.1,730.6 124.6,730.5 126.2,730.5 127.8,730.4 129.4,730.3 131.0,730.2 132.6,730.1 134.2,730.0 135.8,729.8 137.4,729.7 139.0,729.6 140.5,729.5 142.1,729.4 143.7,729.4 145.3,729.3 146.9,729.2 148.5,729.1 150.1,729.1 151.7,729.1 153.3,729.0 154.9,729.0 156.4,729.0 158.0,729.1 159.6,729.1 161.2,729.1 162.8,729.2 164.4,729.2 166.0,729.3 167.6,729.3 169.2,729.4 170.8,729.4 172.3,729.5 173.9,729.5 175.5,729.5 177.1,729.6 178.7,729.6 180.3,729.6 181.9,729.6 183.5,729.6 185.1,729.6 186.7,729.6 188.2,729.6 189.8,729.6 191.4,729.6 193.0,729.6 194.6,729.6 196.2,729.6 197.8,729.6 199.4,729.6 201.0,729.6 202.6,729.6 204.1,729.6 205.7,729.6 207.3,729.6 208.9,729.6 210.5,729.6 212.1,729.6 213.7,729.6 215.3,729.6 216.9,729.6 218.5,729.6 220.0,729.6 221.6,729.6 223.2,729.6 224.8,729.6 226.4,729.6 228.0,729.6 229.6,729.6 231.2,729.6 232.8,729.7 234.4,729.7 235.9,729.8 237.5,729.9 239.1,729.9 240.7,730.0 242.3,730.1 243.9,730.2 245.5,730.3 247.1,730.4 248.7,730.5 250.3,730.6 251.8,730.7 253.4,730.9 255.0,731.1 256.6,731.3 258.2,731.6 259.8,731.8 261.4,732.1 263.0,732.4 264.6,732.6 266.2,732.9 267.7,733.1 269.3,733.3 270.9,733.5 272.5,733.7 274.1,733.8 275.7,733.9 277.3,734.0 278.9,734.1 280.5,734.2 282.1,734.3 283.6,734.4 285.2,734.5 286.8,734.6 288.4,734.7 290.0,734.7 291.6,734.8 293.2,734.8 294.8,734.8 296.4,734.9 298.0,734.9 299.5,734.9 301.1,734.8 302.7,734.7 304.3,734.5 305.9,734.3 307.5,734.1 309.1,733.8 310.7,733.6 312.3,733.3 313.9,733.0 315.4,732.7 317.0,732.5 318.6,732.2 320.2,731.9 321.8,731.7 323.4,731.4 325.0,731.2 326.6,730.9 328.2,730.5 329.8,730.2 331.3,729.9 332.9,729.6 334.5,729.3 336.1,729.0 337.7,728.8 339.3,728.6 340.9,728.5 342.5,728.5 344.1,728.5 345.7,728.5 347.2,728.5 348.8,728.5 350.4,728.5 352.0,728.5 353.6,728.5 355.2,728.5 356.8,728.5 358.4,728.5 360.0,728.5 361.6,728.5 363.1,728.6 364.7,728.9 366.3,729.3 367.9,729.9 369.5,730.5 371.1,731.1 372.7,731.8 374.3,732.4 375.9,732.9 377.5,733.3 379.0,733.6 380.6,733.9 382.2,734.3 383.8,734.6 385.4,734.9 387.0,735.1 388.6,735.4 390.2,735.5 391.8,735.6 393.4,735.7 394.9,735.7 396.5,735.7 398.1,735.6 399.7,735.6 401.3,735.6 402.9,735.6 404.5,735.5 406.1,735.5 407.7,735.5 409.3,735.4 410.8,735.3 412.4,735.2 414.0,734.9 415.6,734.7 417.2,734.4 418.8,734.1 420.4,733.7 422.0,733.4 423.6,733.1 425.2,732.7 426.7,732.4 428.3,732.0 429.9,731.6 431.5,731.2 433.1,730.8 434.7,730.4 436.3,730.1 437.9,729.8 439.5,729.6 441.1,729.6 442.6,729.6 444.2,729.6 445.8,729.6 447.4,729.7 449.0,729.8 450.6,729.9 452.2,730.0 453.8,730.1 455.4,730.3 457.0,730.7 458.5,731.2 460.1,731.7 461.7,732.3 463.3,732.9 464.9,733.3 466.5,733.7 468.1,733.8 469.7,733.9 471.3,733.9 472.9,733.9 474.4,734.0 476.0,734.0 477.6,734.0 479.2,734.0 480.8,734.1 482.4,734.1 484.0,734.1 485.6,734.1 487.2,734.1 488.8,734.1 490.3,734.2 491.9,734.2 493.5,734.2 495.1,734.2 496.7,734.2 498.3,734.2 499.9,734.2 501.5,734.2 503.1,734.2 504.7,734.3 506.2,734.3 507.8,734.3 509.4,734.3 511.0,734.3 512.6,734.3 514.2,734.4 515.8,734.4 517.4,734.4 519.0,734.4 520.6,734.5 522.1,734.5 523.7,734.5 525.3,734.5 526.9,734.6 528.5,734.6 530.1,734.6 531.7,734.6 533.3,734.6 534.9,734.7 536.5,734.7 538.0,734.7 539.6,734.8 541.2,734.8 542.8,734.8 544.4,734.8 546.0,734.9 547.6,734.9 549.2,734.9 550.8,734.9 552.4,735.0 553.9,735.0 555.5,735.0 557.1,735.0 558.7,735.1 560.3,735.1 561.9,735.1 563.5,735.2 565.1,735.2 566.7,735.2 568.3,735.2 569.8,735.3 571.4,735.3 573.0,735.3 574.6,735.4 576.2,735.4 577.8,735.4 579.4,735.5 581.0,735.5 582.6,735.5 584.2,735.5 585.7,735.6 587.3,735.6 588.9,735.6 590.5,735.7 592.1,735.7 593.7,735.7 595.3,735.8 596.9,735.8 598.5,735.8 600.1,735.9 601.6,735.9 603.2,735.9"/>
<rect x="401.5" y="206" width="3.9" height="652" fill="#ff0000"/>
<line x1="66" y1="205" x2="625" y2="205" stroke="#686868" stroke-width="1.8"/>
<line x1="624.8" y1="204.2" x2="624.8" y2="858.8" stroke="#333" stroke-width="2"/>
<line x1="66.8" y1="204.2" x2="66.8" y2="858.8" stroke="#444" stroke-width="2"/>
<line x1="66" y1="858" x2="625.5" y2="858" stroke="#555" stroke-width="1.8"/>
<g font-family="Liberation Serif" font-weight="bold" font-size="16"><text x="51.5" y="263.0" text-anchor="end">0.9</text><text x="51.5" y="369.4" text-anchor="end">0.7</text><text x="51.5" y="475.7" text-anchor="end">0.5</text><text x="51.5" y="582.0" text-anchor="end">0.3</text><text x="51.5" y="688.4" text-anchor="end">0.1</text><text x="51.5" y="794.7" text-anchor="end">-0.1</text><text x="70.6" y="881.6" text-anchor="middle">60.0</text><text x="148.1" y="881.6" text-anchor="middle">65.0</text><text x="226.1" y="881.6" text-anchor="middle">70.0</text><text x="308.0" y="881.6" text-anchor="middle">75.0</text><text x="385.7" y="881.6" text-anchor="middle">80.0</text><text x="463.5" y="881.6" text-anchor="middle">85.0</text><text x="545.2" y="881.6" text-anchor="middle">90.0</text><text x="622.9" y="881.6" text-anchor="middle">95.0</text></g>
</svg>
<div class="a" style="left:88px;top:260.5px;font-size:16px;letter-spacing:0.9px">Dissociation peak of specific product</div>
<div class="a" style="left:320px;top:746px;font-size:21px">NTC</div>
<div class="a" style="left:301px;top:892px;font-size:17.5px">Temperature <span style="font-size:16px;letter-spacing:-0.8px">(°C)</span></div>
<div class="a" style="left:-92px;top:487px;font-size:17.2px;width:200px;text-align:center;transform:rotate(-90deg);transform-origin:100px 9px">Derivative Reporter (-Rn)</div>
</body></html>
